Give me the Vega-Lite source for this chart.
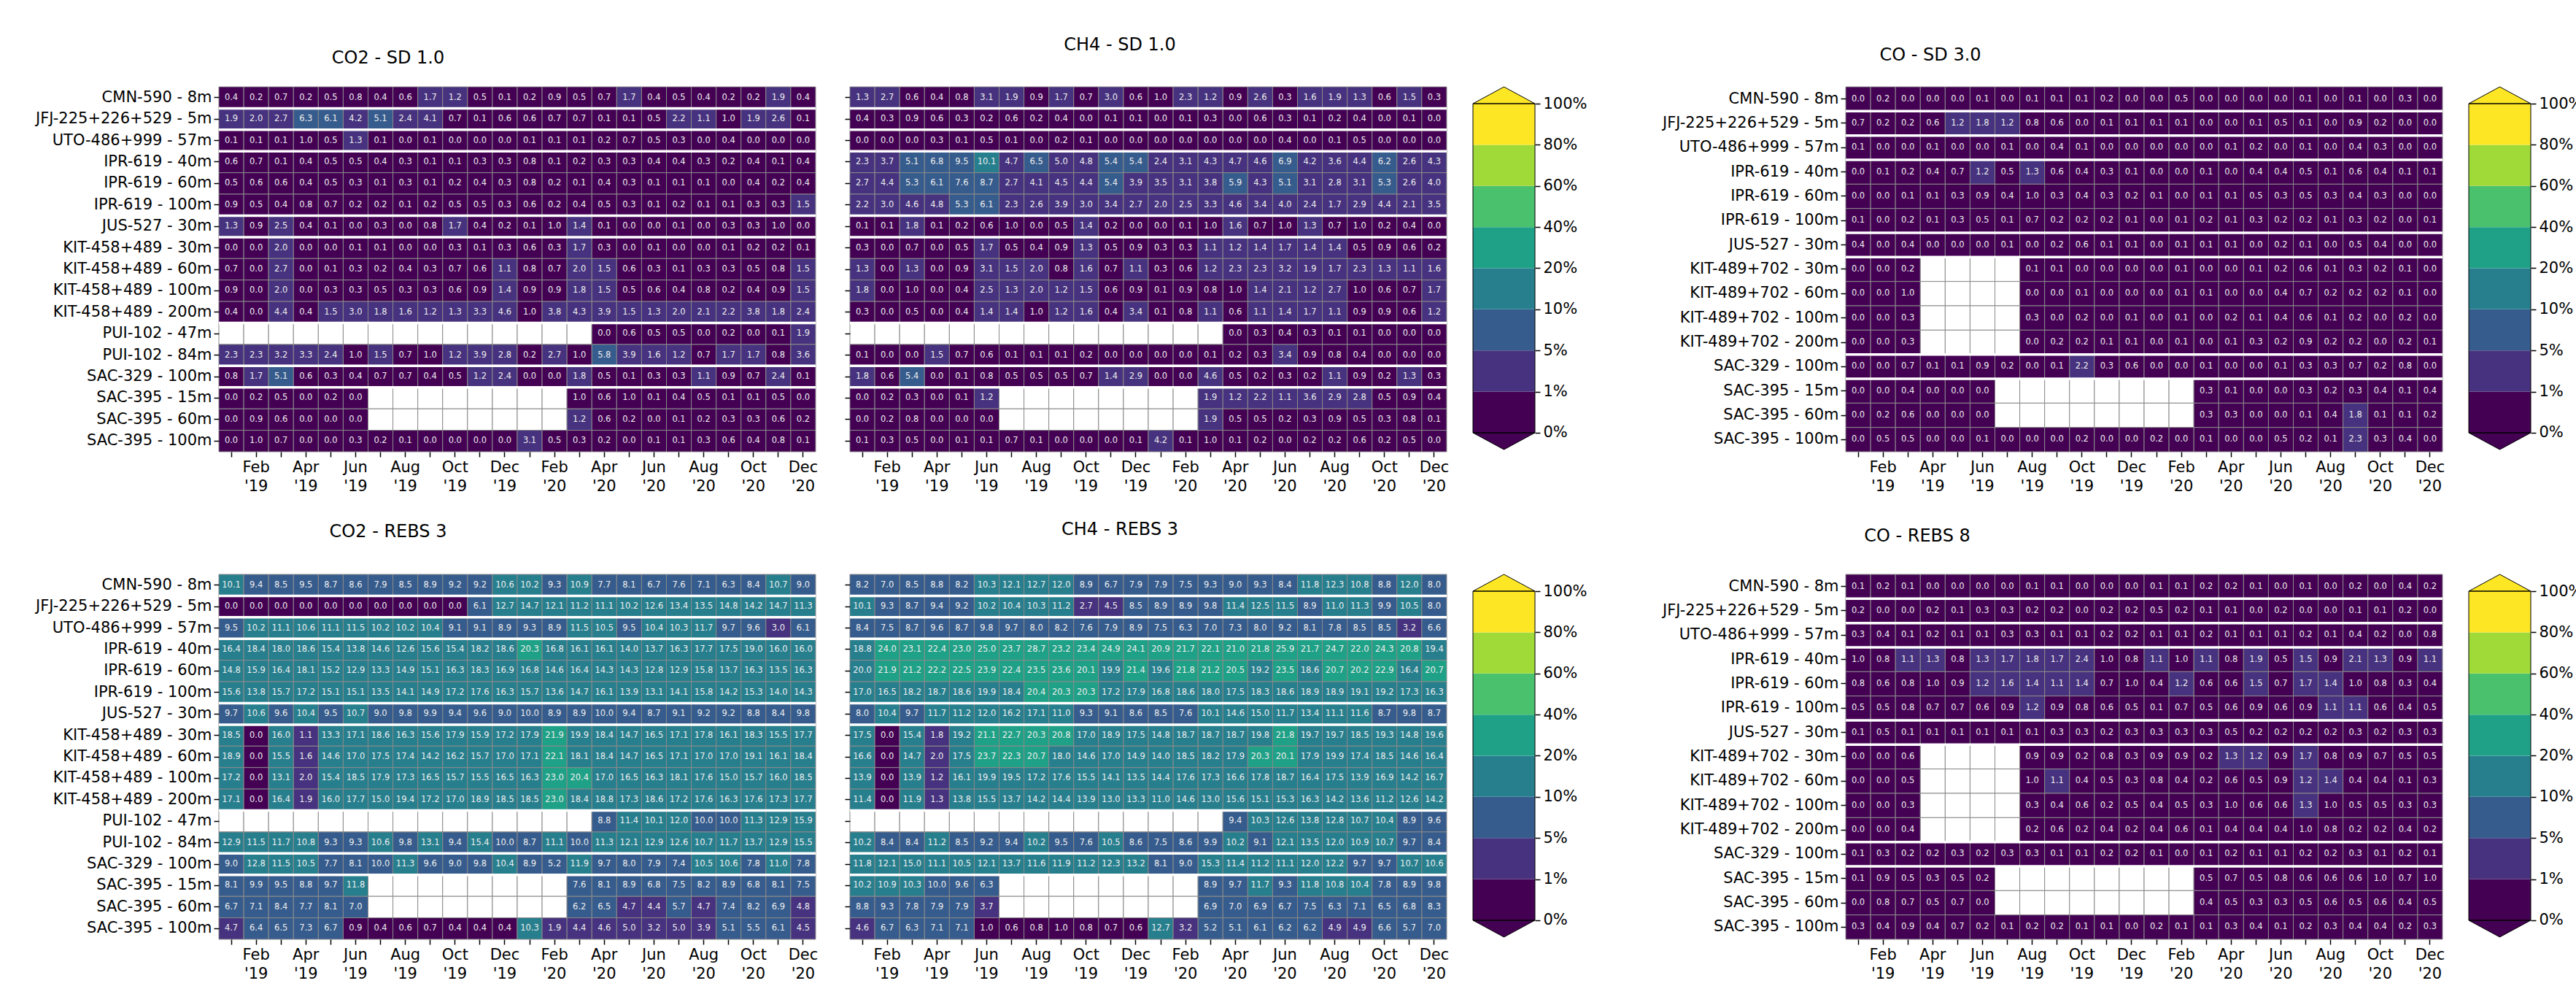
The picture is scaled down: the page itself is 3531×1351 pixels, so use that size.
{
"$schema":"https://vega.github.io/schema/vega-lite/v6.json",
"padding":{"left":48,"top":49,"right":5,"bottom":5},
"background":"white",
"spacing":37,
"config":{"font":"DejaVu Sans","view":{"stroke":null},
"axis":{"labelFont":"DejaVu Sans","labelFontSize":21,"labelColor":"black","tickColor":"black","tickSize":7,"tickWidth":1.5,"domain":false,"grid":false},
"title":{"font":"DejaVu Sans","fontSize":24,"fontWeight":"normal","color":"black","anchor":"middle","frame":"group","offset":40}},
"datasets":{
"sepGas":[{"s":"JFJ-225+226+529 - 5m"},{"s":"UTO-486+999 - 57m"},{"s":"IPR-619 - 40m"},{"s":"JUS-527 - 30m"},{"s":"KIT-458+489 - 30m"},{"s":"PUI-102 - 47m"},{"s":"SAC-329 - 100m"},{"s":"SAC-395 - 15m"}],
"sepCo":[{"s":"JFJ-225+226+529 - 5m"},{"s":"UTO-486+999 - 57m"},{"s":"IPR-619 - 40m"},{"s":"JUS-527 - 30m"},{"s":"KIT-489+702 - 30m"},{"s":"SAC-329 - 100m"},{"s":"SAC-395 - 15m"}],
"bins":[{"k":0,"hi":1},{"k":1,"hi":5},{"k":2,"hi":10},{"k":3,"hi":20},{"k":4,"hi":40},{"k":5,"hi":60},{"k":6,"hi":80},{"k":7,"hi":100}],
"ends":[{"end":"over","k":8},{"end":"under","k":0}],
"gas":[
{"s":"CMN-590 - 8m","m":"2019-01","co2sd":0.4,"co2rebs":10.1,"ch4sd":1.3,"ch4rebs":8.2},
{"s":"CMN-590 - 8m","m":"2019-02","co2sd":0.2,"co2rebs":9.4,"ch4sd":2.7,"ch4rebs":7.0},
{"s":"CMN-590 - 8m","m":"2019-03","co2sd":0.7,"co2rebs":8.5,"ch4sd":0.6,"ch4rebs":8.5},
{"s":"CMN-590 - 8m","m":"2019-04","co2sd":0.2,"co2rebs":9.5,"ch4sd":0.4,"ch4rebs":8.8},
{"s":"CMN-590 - 8m","m":"2019-05","co2sd":0.5,"co2rebs":8.7,"ch4sd":0.8,"ch4rebs":8.2},
{"s":"CMN-590 - 8m","m":"2019-06","co2sd":0.8,"co2rebs":8.6,"ch4sd":3.1,"ch4rebs":10.3},
{"s":"CMN-590 - 8m","m":"2019-07","co2sd":0.4,"co2rebs":7.9,"ch4sd":1.9,"ch4rebs":12.1},
{"s":"CMN-590 - 8m","m":"2019-08","co2sd":0.6,"co2rebs":8.5,"ch4sd":0.9,"ch4rebs":12.7},
{"s":"CMN-590 - 8m","m":"2019-09","co2sd":1.7,"co2rebs":8.9,"ch4sd":1.7,"ch4rebs":12.0},
{"s":"CMN-590 - 8m","m":"2019-10","co2sd":1.2,"co2rebs":9.2,"ch4sd":0.7,"ch4rebs":8.9},
{"s":"CMN-590 - 8m","m":"2019-11","co2sd":0.5,"co2rebs":9.2,"ch4sd":3.0,"ch4rebs":6.7},
{"s":"CMN-590 - 8m","m":"2019-12","co2sd":0.1,"co2rebs":10.6,"ch4sd":0.6,"ch4rebs":7.9},
{"s":"CMN-590 - 8m","m":"2020-01","co2sd":0.2,"co2rebs":10.2,"ch4sd":1.0,"ch4rebs":7.9},
{"s":"CMN-590 - 8m","m":"2020-02","co2sd":0.9,"co2rebs":9.3,"ch4sd":2.3,"ch4rebs":7.5},
{"s":"CMN-590 - 8m","m":"2020-03","co2sd":0.5,"co2rebs":10.9,"ch4sd":1.2,"ch4rebs":9.3},
{"s":"CMN-590 - 8m","m":"2020-04","co2sd":0.7,"co2rebs":7.7,"ch4sd":0.9,"ch4rebs":9.0},
{"s":"CMN-590 - 8m","m":"2020-05","co2sd":1.7,"co2rebs":8.1,"ch4sd":2.6,"ch4rebs":9.3},
{"s":"CMN-590 - 8m","m":"2020-06","co2sd":0.4,"co2rebs":6.7,"ch4sd":0.3,"ch4rebs":8.4},
{"s":"CMN-590 - 8m","m":"2020-07","co2sd":0.5,"co2rebs":7.6,"ch4sd":1.6,"ch4rebs":11.8},
{"s":"CMN-590 - 8m","m":"2020-08","co2sd":0.4,"co2rebs":7.1,"ch4sd":1.9,"ch4rebs":12.3},
{"s":"CMN-590 - 8m","m":"2020-09","co2sd":0.2,"co2rebs":6.3,"ch4sd":1.3,"ch4rebs":10.8},
{"s":"CMN-590 - 8m","m":"2020-10","co2sd":0.2,"co2rebs":8.4,"ch4sd":0.6,"ch4rebs":8.8},
{"s":"CMN-590 - 8m","m":"2020-11","co2sd":1.9,"co2rebs":10.7,"ch4sd":1.5,"ch4rebs":12.0},
{"s":"CMN-590 - 8m","m":"2020-12","co2sd":0.4,"co2rebs":9.0,"ch4sd":0.3,"ch4rebs":8.0},
{"s":"JFJ-225+226+529 - 5m","m":"2019-01","co2sd":1.9,"co2rebs":0.0,"ch4sd":0.4,"ch4rebs":10.1},
{"s":"JFJ-225+226+529 - 5m","m":"2019-02","co2sd":2.0,"co2rebs":0.0,"ch4sd":0.3,"ch4rebs":9.3},
{"s":"JFJ-225+226+529 - 5m","m":"2019-03","co2sd":2.7,"co2rebs":0.0,"ch4sd":0.9,"ch4rebs":8.7},
{"s":"JFJ-225+226+529 - 5m","m":"2019-04","co2sd":6.3,"co2rebs":0.0,"ch4sd":0.6,"ch4rebs":9.4},
{"s":"JFJ-225+226+529 - 5m","m":"2019-05","co2sd":6.1,"co2rebs":0.0,"ch4sd":0.3,"ch4rebs":9.2},
{"s":"JFJ-225+226+529 - 5m","m":"2019-06","co2sd":4.2,"co2rebs":0.0,"ch4sd":0.2,"ch4rebs":10.2},
{"s":"JFJ-225+226+529 - 5m","m":"2019-07","co2sd":5.1,"co2rebs":0.0,"ch4sd":0.6,"ch4rebs":10.4},
{"s":"JFJ-225+226+529 - 5m","m":"2019-08","co2sd":2.4,"co2rebs":0.0,"ch4sd":0.2,"ch4rebs":10.3},
{"s":"JFJ-225+226+529 - 5m","m":"2019-09","co2sd":4.1,"co2rebs":0.0,"ch4sd":0.4,"ch4rebs":11.2},
{"s":"JFJ-225+226+529 - 5m","m":"2019-10","co2sd":0.7,"co2rebs":0.0,"ch4sd":0.0,"ch4rebs":2.7},
{"s":"JFJ-225+226+529 - 5m","m":"2019-11","co2sd":0.1,"co2rebs":6.1,"ch4sd":0.1,"ch4rebs":4.5},
{"s":"JFJ-225+226+529 - 5m","m":"2019-12","co2sd":0.6,"co2rebs":12.7,"ch4sd":0.1,"ch4rebs":8.5},
{"s":"JFJ-225+226+529 - 5m","m":"2020-01","co2sd":0.6,"co2rebs":14.7,"ch4sd":0.0,"ch4rebs":8.9},
{"s":"JFJ-225+226+529 - 5m","m":"2020-02","co2sd":0.7,"co2rebs":12.1,"ch4sd":0.1,"ch4rebs":8.9},
{"s":"JFJ-225+226+529 - 5m","m":"2020-03","co2sd":0.7,"co2rebs":11.2,"ch4sd":0.3,"ch4rebs":9.8},
{"s":"JFJ-225+226+529 - 5m","m":"2020-04","co2sd":0.1,"co2rebs":11.1,"ch4sd":0.0,"ch4rebs":11.4},
{"s":"JFJ-225+226+529 - 5m","m":"2020-05","co2sd":0.1,"co2rebs":10.2,"ch4sd":0.6,"ch4rebs":12.5},
{"s":"JFJ-225+226+529 - 5m","m":"2020-06","co2sd":0.5,"co2rebs":12.6,"ch4sd":0.3,"ch4rebs":11.5},
{"s":"JFJ-225+226+529 - 5m","m":"2020-07","co2sd":2.2,"co2rebs":13.4,"ch4sd":0.1,"ch4rebs":8.9},
{"s":"JFJ-225+226+529 - 5m","m":"2020-08","co2sd":1.1,"co2rebs":13.5,"ch4sd":0.2,"ch4rebs":11.0},
{"s":"JFJ-225+226+529 - 5m","m":"2020-09","co2sd":1.0,"co2rebs":14.8,"ch4sd":0.4,"ch4rebs":11.3},
{"s":"JFJ-225+226+529 - 5m","m":"2020-10","co2sd":1.9,"co2rebs":14.2,"ch4sd":0.0,"ch4rebs":9.9},
{"s":"JFJ-225+226+529 - 5m","m":"2020-11","co2sd":2.6,"co2rebs":14.7,"ch4sd":0.1,"ch4rebs":10.5},
{"s":"JFJ-225+226+529 - 5m","m":"2020-12","co2sd":0.1,"co2rebs":11.3,"ch4sd":0.0,"ch4rebs":8.0},
{"s":"UTO-486+999 - 57m","m":"2019-01","co2sd":0.1,"co2rebs":9.5,"ch4sd":0.0,"ch4rebs":8.4},
{"s":"UTO-486+999 - 57m","m":"2019-02","co2sd":0.1,"co2rebs":10.2,"ch4sd":0.0,"ch4rebs":7.5},
{"s":"UTO-486+999 - 57m","m":"2019-03","co2sd":0.1,"co2rebs":11.1,"ch4sd":0.0,"ch4rebs":8.7},
{"s":"UTO-486+999 - 57m","m":"2019-04","co2sd":1.0,"co2rebs":10.6,"ch4sd":0.3,"ch4rebs":9.6},
{"s":"UTO-486+999 - 57m","m":"2019-05","co2sd":0.5,"co2rebs":11.1,"ch4sd":0.1,"ch4rebs":8.7},
{"s":"UTO-486+999 - 57m","m":"2019-06","co2sd":1.3,"co2rebs":11.5,"ch4sd":0.5,"ch4rebs":9.8},
{"s":"UTO-486+999 - 57m","m":"2019-07","co2sd":0.1,"co2rebs":10.2,"ch4sd":0.1,"ch4rebs":9.7},
{"s":"UTO-486+999 - 57m","m":"2019-08","co2sd":0.0,"co2rebs":10.2,"ch4sd":0.0,"ch4rebs":8.0},
{"s":"UTO-486+999 - 57m","m":"2019-09","co2sd":0.1,"co2rebs":10.4,"ch4sd":0.2,"ch4rebs":8.2},
{"s":"UTO-486+999 - 57m","m":"2019-10","co2sd":0.0,"co2rebs":9.1,"ch4sd":0.1,"ch4rebs":7.6},
{"s":"UTO-486+999 - 57m","m":"2019-11","co2sd":0.0,"co2rebs":9.1,"ch4sd":0.0,"ch4rebs":7.9},
{"s":"UTO-486+999 - 57m","m":"2019-12","co2sd":0.0,"co2rebs":8.9,"ch4sd":0.0,"ch4rebs":8.9},
{"s":"UTO-486+999 - 57m","m":"2020-01","co2sd":0.1,"co2rebs":9.3,"ch4sd":0.0,"ch4rebs":7.5},
{"s":"UTO-486+999 - 57m","m":"2020-02","co2sd":0.1,"co2rebs":8.9,"ch4sd":0.0,"ch4rebs":6.3},
{"s":"UTO-486+999 - 57m","m":"2020-03","co2sd":0.1,"co2rebs":11.5,"ch4sd":0.0,"ch4rebs":7.0},
{"s":"UTO-486+999 - 57m","m":"2020-04","co2sd":0.2,"co2rebs":10.5,"ch4sd":0.0,"ch4rebs":7.3},
{"s":"UTO-486+999 - 57m","m":"2020-05","co2sd":0.7,"co2rebs":9.5,"ch4sd":0.0,"ch4rebs":8.0},
{"s":"UTO-486+999 - 57m","m":"2020-06","co2sd":0.5,"co2rebs":10.4,"ch4sd":0.4,"ch4rebs":9.2},
{"s":"UTO-486+999 - 57m","m":"2020-07","co2sd":0.3,"co2rebs":10.3,"ch4sd":0.0,"ch4rebs":8.1},
{"s":"UTO-486+999 - 57m","m":"2020-08","co2sd":0.0,"co2rebs":11.7,"ch4sd":0.1,"ch4rebs":7.8},
{"s":"UTO-486+999 - 57m","m":"2020-09","co2sd":0.4,"co2rebs":9.7,"ch4sd":0.5,"ch4rebs":8.5},
{"s":"UTO-486+999 - 57m","m":"2020-10","co2sd":0.0,"co2rebs":9.6,"ch4sd":0.0,"ch4rebs":8.5},
{"s":"UTO-486+999 - 57m","m":"2020-11","co2sd":0.0,"co2rebs":3.0,"ch4sd":0.0,"ch4rebs":3.2},
{"s":"UTO-486+999 - 57m","m":"2020-12","co2sd":0.0,"co2rebs":6.1,"ch4sd":0.0,"ch4rebs":6.6},
{"s":"IPR-619 - 40m","m":"2019-01","co2sd":0.6,"co2rebs":16.4,"ch4sd":2.3,"ch4rebs":18.8},
{"s":"IPR-619 - 40m","m":"2019-02","co2sd":0.7,"co2rebs":18.4,"ch4sd":3.7,"ch4rebs":24.0},
{"s":"IPR-619 - 40m","m":"2019-03","co2sd":0.1,"co2rebs":18.0,"ch4sd":5.1,"ch4rebs":23.1},
{"s":"IPR-619 - 40m","m":"2019-04","co2sd":0.4,"co2rebs":18.6,"ch4sd":6.8,"ch4rebs":22.4},
{"s":"IPR-619 - 40m","m":"2019-05","co2sd":0.5,"co2rebs":15.4,"ch4sd":9.5,"ch4rebs":23.0},
{"s":"IPR-619 - 40m","m":"2019-06","co2sd":0.5,"co2rebs":13.8,"ch4sd":10.1,"ch4rebs":25.0},
{"s":"IPR-619 - 40m","m":"2019-07","co2sd":0.4,"co2rebs":14.6,"ch4sd":4.7,"ch4rebs":23.7},
{"s":"IPR-619 - 40m","m":"2019-08","co2sd":0.3,"co2rebs":12.6,"ch4sd":6.5,"ch4rebs":28.7},
{"s":"IPR-619 - 40m","m":"2019-09","co2sd":0.1,"co2rebs":15.6,"ch4sd":5.0,"ch4rebs":23.2},
{"s":"IPR-619 - 40m","m":"2019-10","co2sd":0.1,"co2rebs":15.4,"ch4sd":4.8,"ch4rebs":23.4},
{"s":"IPR-619 - 40m","m":"2019-11","co2sd":0.3,"co2rebs":18.2,"ch4sd":5.4,"ch4rebs":24.9},
{"s":"IPR-619 - 40m","m":"2019-12","co2sd":0.3,"co2rebs":18.6,"ch4sd":5.4,"ch4rebs":24.1},
{"s":"IPR-619 - 40m","m":"2020-01","co2sd":0.8,"co2rebs":20.3,"ch4sd":2.4,"ch4rebs":20.9},
{"s":"IPR-619 - 40m","m":"2020-02","co2sd":0.1,"co2rebs":16.8,"ch4sd":3.1,"ch4rebs":21.7},
{"s":"IPR-619 - 40m","m":"2020-03","co2sd":0.2,"co2rebs":16.1,"ch4sd":4.3,"ch4rebs":22.1},
{"s":"IPR-619 - 40m","m":"2020-04","co2sd":0.3,"co2rebs":16.1,"ch4sd":4.7,"ch4rebs":21.0},
{"s":"IPR-619 - 40m","m":"2020-05","co2sd":0.3,"co2rebs":14.0,"ch4sd":4.6,"ch4rebs":21.8},
{"s":"IPR-619 - 40m","m":"2020-06","co2sd":0.4,"co2rebs":13.7,"ch4sd":6.9,"ch4rebs":25.9},
{"s":"IPR-619 - 40m","m":"2020-07","co2sd":0.4,"co2rebs":16.3,"ch4sd":4.2,"ch4rebs":21.7},
{"s":"IPR-619 - 40m","m":"2020-08","co2sd":0.3,"co2rebs":17.7,"ch4sd":3.6,"ch4rebs":24.7},
{"s":"IPR-619 - 40m","m":"2020-09","co2sd":0.2,"co2rebs":17.5,"ch4sd":4.4,"ch4rebs":22.0},
{"s":"IPR-619 - 40m","m":"2020-10","co2sd":0.4,"co2rebs":19.0,"ch4sd":6.2,"ch4rebs":24.3},
{"s":"IPR-619 - 40m","m":"2020-11","co2sd":0.1,"co2rebs":16.0,"ch4sd":2.6,"ch4rebs":20.8},
{"s":"IPR-619 - 40m","m":"2020-12","co2sd":0.4,"co2rebs":16.0,"ch4sd":4.3,"ch4rebs":19.4},
{"s":"IPR-619 - 60m","m":"2019-01","co2sd":0.5,"co2rebs":14.8,"ch4sd":2.7,"ch4rebs":20.0},
{"s":"IPR-619 - 60m","m":"2019-02","co2sd":0.6,"co2rebs":15.9,"ch4sd":4.4,"ch4rebs":21.9},
{"s":"IPR-619 - 60m","m":"2019-03","co2sd":0.6,"co2rebs":16.4,"ch4sd":5.3,"ch4rebs":21.2},
{"s":"IPR-619 - 60m","m":"2019-04","co2sd":0.4,"co2rebs":18.1,"ch4sd":6.1,"ch4rebs":22.2},
{"s":"IPR-619 - 60m","m":"2019-05","co2sd":0.5,"co2rebs":15.2,"ch4sd":7.6,"ch4rebs":22.5},
{"s":"IPR-619 - 60m","m":"2019-06","co2sd":0.3,"co2rebs":12.9,"ch4sd":8.7,"ch4rebs":23.9},
{"s":"IPR-619 - 60m","m":"2019-07","co2sd":0.1,"co2rebs":13.3,"ch4sd":2.7,"ch4rebs":22.4},
{"s":"IPR-619 - 60m","m":"2019-08","co2sd":0.3,"co2rebs":14.9,"ch4sd":4.1,"ch4rebs":23.5},
{"s":"IPR-619 - 60m","m":"2019-09","co2sd":0.1,"co2rebs":15.1,"ch4sd":4.5,"ch4rebs":23.6},
{"s":"IPR-619 - 60m","m":"2019-10","co2sd":0.2,"co2rebs":16.3,"ch4sd":4.4,"ch4rebs":20.1},
{"s":"IPR-619 - 60m","m":"2019-11","co2sd":0.4,"co2rebs":18.3,"ch4sd":5.4,"ch4rebs":19.9},
{"s":"IPR-619 - 60m","m":"2019-12","co2sd":0.3,"co2rebs":16.9,"ch4sd":3.9,"ch4rebs":21.4},
{"s":"IPR-619 - 60m","m":"2020-01","co2sd":0.8,"co2rebs":16.8,"ch4sd":3.5,"ch4rebs":19.6},
{"s":"IPR-619 - 60m","m":"2020-02","co2sd":0.2,"co2rebs":14.6,"ch4sd":3.1,"ch4rebs":21.8},
{"s":"IPR-619 - 60m","m":"2020-03","co2sd":0.1,"co2rebs":16.4,"ch4sd":3.8,"ch4rebs":21.2},
{"s":"IPR-619 - 60m","m":"2020-04","co2sd":0.4,"co2rebs":14.3,"ch4sd":5.9,"ch4rebs":20.5},
{"s":"IPR-619 - 60m","m":"2020-05","co2sd":0.3,"co2rebs":14.3,"ch4sd":4.3,"ch4rebs":19.2},
{"s":"IPR-619 - 60m","m":"2020-06","co2sd":0.1,"co2rebs":12.8,"ch4sd":5.1,"ch4rebs":23.5},
{"s":"IPR-619 - 60m","m":"2020-07","co2sd":0.1,"co2rebs":12.9,"ch4sd":3.1,"ch4rebs":18.6},
{"s":"IPR-619 - 60m","m":"2020-08","co2sd":0.1,"co2rebs":15.8,"ch4sd":2.8,"ch4rebs":20.7},
{"s":"IPR-619 - 60m","m":"2020-09","co2sd":0.0,"co2rebs":13.7,"ch4sd":3.1,"ch4rebs":20.2},
{"s":"IPR-619 - 60m","m":"2020-10","co2sd":0.4,"co2rebs":16.3,"ch4sd":5.3,"ch4rebs":22.9},
{"s":"IPR-619 - 60m","m":"2020-11","co2sd":0.2,"co2rebs":13.5,"ch4sd":2.6,"ch4rebs":16.4},
{"s":"IPR-619 - 60m","m":"2020-12","co2sd":0.4,"co2rebs":16.3,"ch4sd":4.0,"ch4rebs":20.7},
{"s":"IPR-619 - 100m","m":"2019-01","co2sd":0.9,"co2rebs":15.6,"ch4sd":2.2,"ch4rebs":17.0},
{"s":"IPR-619 - 100m","m":"2019-02","co2sd":0.5,"co2rebs":13.8,"ch4sd":3.0,"ch4rebs":16.5},
{"s":"IPR-619 - 100m","m":"2019-03","co2sd":0.4,"co2rebs":15.7,"ch4sd":4.6,"ch4rebs":18.2},
{"s":"IPR-619 - 100m","m":"2019-04","co2sd":0.8,"co2rebs":17.2,"ch4sd":4.8,"ch4rebs":18.7},
{"s":"IPR-619 - 100m","m":"2019-05","co2sd":0.7,"co2rebs":15.1,"ch4sd":5.3,"ch4rebs":18.6},
{"s":"IPR-619 - 100m","m":"2019-06","co2sd":0.2,"co2rebs":15.1,"ch4sd":6.1,"ch4rebs":19.9},
{"s":"IPR-619 - 100m","m":"2019-07","co2sd":0.2,"co2rebs":13.5,"ch4sd":2.3,"ch4rebs":18.4},
{"s":"IPR-619 - 100m","m":"2019-08","co2sd":0.1,"co2rebs":14.1,"ch4sd":2.6,"ch4rebs":20.4},
{"s":"IPR-619 - 100m","m":"2019-09","co2sd":0.2,"co2rebs":14.9,"ch4sd":3.9,"ch4rebs":20.3},
{"s":"IPR-619 - 100m","m":"2019-10","co2sd":0.5,"co2rebs":17.2,"ch4sd":3.0,"ch4rebs":20.3},
{"s":"IPR-619 - 100m","m":"2019-11","co2sd":0.5,"co2rebs":17.6,"ch4sd":3.4,"ch4rebs":17.2},
{"s":"IPR-619 - 100m","m":"2019-12","co2sd":0.3,"co2rebs":16.3,"ch4sd":2.7,"ch4rebs":17.9},
{"s":"IPR-619 - 100m","m":"2020-01","co2sd":0.6,"co2rebs":15.7,"ch4sd":2.0,"ch4rebs":16.8},
{"s":"IPR-619 - 100m","m":"2020-02","co2sd":0.2,"co2rebs":13.6,"ch4sd":2.5,"ch4rebs":18.6},
{"s":"IPR-619 - 100m","m":"2020-03","co2sd":0.4,"co2rebs":14.7,"ch4sd":3.3,"ch4rebs":18.0},
{"s":"IPR-619 - 100m","m":"2020-04","co2sd":0.5,"co2rebs":16.1,"ch4sd":4.6,"ch4rebs":17.5},
{"s":"IPR-619 - 100m","m":"2020-05","co2sd":0.3,"co2rebs":13.9,"ch4sd":3.4,"ch4rebs":18.3},
{"s":"IPR-619 - 100m","m":"2020-06","co2sd":0.1,"co2rebs":13.1,"ch4sd":4.0,"ch4rebs":18.6},
{"s":"IPR-619 - 100m","m":"2020-07","co2sd":0.2,"co2rebs":14.1,"ch4sd":2.4,"ch4rebs":18.9},
{"s":"IPR-619 - 100m","m":"2020-08","co2sd":0.1,"co2rebs":15.8,"ch4sd":1.7,"ch4rebs":18.9},
{"s":"IPR-619 - 100m","m":"2020-09","co2sd":0.1,"co2rebs":14.2,"ch4sd":2.9,"ch4rebs":19.1},
{"s":"IPR-619 - 100m","m":"2020-10","co2sd":0.3,"co2rebs":15.3,"ch4sd":4.4,"ch4rebs":19.2},
{"s":"IPR-619 - 100m","m":"2020-11","co2sd":0.3,"co2rebs":14.0,"ch4sd":2.1,"ch4rebs":17.3},
{"s":"IPR-619 - 100m","m":"2020-12","co2sd":1.5,"co2rebs":14.3,"ch4sd":3.5,"ch4rebs":16.3},
{"s":"JUS-527 - 30m","m":"2019-01","co2sd":1.3,"co2rebs":9.7,"ch4sd":0.1,"ch4rebs":8.0},
{"s":"JUS-527 - 30m","m":"2019-02","co2sd":0.9,"co2rebs":10.6,"ch4sd":0.1,"ch4rebs":10.4},
{"s":"JUS-527 - 30m","m":"2019-03","co2sd":2.5,"co2rebs":9.6,"ch4sd":1.8,"ch4rebs":9.7},
{"s":"JUS-527 - 30m","m":"2019-04","co2sd":0.4,"co2rebs":10.4,"ch4sd":0.1,"ch4rebs":11.7},
{"s":"JUS-527 - 30m","m":"2019-05","co2sd":0.1,"co2rebs":9.5,"ch4sd":0.2,"ch4rebs":11.2},
{"s":"JUS-527 - 30m","m":"2019-06","co2sd":0.0,"co2rebs":10.7,"ch4sd":0.6,"ch4rebs":12.0},
{"s":"JUS-527 - 30m","m":"2019-07","co2sd":0.3,"co2rebs":9.0,"ch4sd":1.0,"ch4rebs":16.2},
{"s":"JUS-527 - 30m","m":"2019-08","co2sd":0.0,"co2rebs":9.8,"ch4sd":0.0,"ch4rebs":17.1},
{"s":"JUS-527 - 30m","m":"2019-09","co2sd":0.8,"co2rebs":9.9,"ch4sd":0.5,"ch4rebs":11.0},
{"s":"JUS-527 - 30m","m":"2019-10","co2sd":1.7,"co2rebs":9.4,"ch4sd":1.4,"ch4rebs":9.3},
{"s":"JUS-527 - 30m","m":"2019-11","co2sd":0.4,"co2rebs":9.6,"ch4sd":0.2,"ch4rebs":9.1},
{"s":"JUS-527 - 30m","m":"2019-12","co2sd":0.2,"co2rebs":9.0,"ch4sd":0.0,"ch4rebs":8.6},
{"s":"JUS-527 - 30m","m":"2020-01","co2sd":0.1,"co2rebs":10.0,"ch4sd":0.0,"ch4rebs":8.5},
{"s":"JUS-527 - 30m","m":"2020-02","co2sd":1.0,"co2rebs":8.9,"ch4sd":0.1,"ch4rebs":7.6},
{"s":"JUS-527 - 30m","m":"2020-03","co2sd":1.4,"co2rebs":8.9,"ch4sd":1.0,"ch4rebs":10.1},
{"s":"JUS-527 - 30m","m":"2020-04","co2sd":0.1,"co2rebs":10.0,"ch4sd":1.6,"ch4rebs":14.6},
{"s":"JUS-527 - 30m","m":"2020-05","co2sd":0.0,"co2rebs":9.4,"ch4sd":0.7,"ch4rebs":15.0},
{"s":"JUS-527 - 30m","m":"2020-06","co2sd":0.0,"co2rebs":8.7,"ch4sd":1.0,"ch4rebs":11.7},
{"s":"JUS-527 - 30m","m":"2020-07","co2sd":0.1,"co2rebs":9.1,"ch4sd":1.3,"ch4rebs":13.4},
{"s":"JUS-527 - 30m","m":"2020-08","co2sd":0.0,"co2rebs":9.2,"ch4sd":0.7,"ch4rebs":11.1},
{"s":"JUS-527 - 30m","m":"2020-09","co2sd":0.3,"co2rebs":9.2,"ch4sd":1.0,"ch4rebs":11.6},
{"s":"JUS-527 - 30m","m":"2020-10","co2sd":0.3,"co2rebs":8.8,"ch4sd":0.2,"ch4rebs":8.7},
{"s":"JUS-527 - 30m","m":"2020-11","co2sd":1.0,"co2rebs":8.4,"ch4sd":0.4,"ch4rebs":9.8},
{"s":"JUS-527 - 30m","m":"2020-12","co2sd":0.0,"co2rebs":9.8,"ch4sd":0.0,"ch4rebs":8.7},
{"s":"KIT-458+489 - 30m","m":"2019-01","co2sd":0.0,"co2rebs":18.5,"ch4sd":0.3,"ch4rebs":17.5},
{"s":"KIT-458+489 - 30m","m":"2019-02","co2sd":0.0,"co2rebs":0.0,"ch4sd":0.0,"ch4rebs":0.0},
{"s":"KIT-458+489 - 30m","m":"2019-03","co2sd":2.0,"co2rebs":16.0,"ch4sd":0.7,"ch4rebs":15.4},
{"s":"KIT-458+489 - 30m","m":"2019-04","co2sd":0.0,"co2rebs":1.1,"ch4sd":0.0,"ch4rebs":1.8},
{"s":"KIT-458+489 - 30m","m":"2019-05","co2sd":0.0,"co2rebs":13.3,"ch4sd":0.5,"ch4rebs":19.2},
{"s":"KIT-458+489 - 30m","m":"2019-06","co2sd":0.1,"co2rebs":17.1,"ch4sd":1.7,"ch4rebs":21.1},
{"s":"KIT-458+489 - 30m","m":"2019-07","co2sd":0.1,"co2rebs":18.6,"ch4sd":0.5,"ch4rebs":22.7},
{"s":"KIT-458+489 - 30m","m":"2019-08","co2sd":0.0,"co2rebs":16.3,"ch4sd":0.4,"ch4rebs":20.3},
{"s":"KIT-458+489 - 30m","m":"2019-09","co2sd":0.0,"co2rebs":15.6,"ch4sd":0.9,"ch4rebs":20.8},
{"s":"KIT-458+489 - 30m","m":"2019-10","co2sd":0.3,"co2rebs":17.9,"ch4sd":1.3,"ch4rebs":17.0},
{"s":"KIT-458+489 - 30m","m":"2019-11","co2sd":0.1,"co2rebs":15.9,"ch4sd":0.5,"ch4rebs":18.9},
{"s":"KIT-458+489 - 30m","m":"2019-12","co2sd":0.3,"co2rebs":17.2,"ch4sd":0.9,"ch4rebs":17.5},
{"s":"KIT-458+489 - 30m","m":"2020-01","co2sd":0.6,"co2rebs":17.9,"ch4sd":0.3,"ch4rebs":14.8},
{"s":"KIT-458+489 - 30m","m":"2020-02","co2sd":0.3,"co2rebs":21.9,"ch4sd":0.3,"ch4rebs":18.7},
{"s":"KIT-458+489 - 30m","m":"2020-03","co2sd":1.7,"co2rebs":19.9,"ch4sd":1.1,"ch4rebs":18.7},
{"s":"KIT-458+489 - 30m","m":"2020-04","co2sd":0.3,"co2rebs":18.4,"ch4sd":1.2,"ch4rebs":18.7},
{"s":"KIT-458+489 - 30m","m":"2020-05","co2sd":0.0,"co2rebs":14.7,"ch4sd":1.4,"ch4rebs":19.8},
{"s":"KIT-458+489 - 30m","m":"2020-06","co2sd":0.1,"co2rebs":16.5,"ch4sd":1.7,"ch4rebs":21.8},
{"s":"KIT-458+489 - 30m","m":"2020-07","co2sd":0.0,"co2rebs":17.1,"ch4sd":1.4,"ch4rebs":19.7},
{"s":"KIT-458+489 - 30m","m":"2020-08","co2sd":0.0,"co2rebs":17.8,"ch4sd":1.4,"ch4rebs":19.7},
{"s":"KIT-458+489 - 30m","m":"2020-09","co2sd":0.1,"co2rebs":16.1,"ch4sd":0.5,"ch4rebs":18.5},
{"s":"KIT-458+489 - 30m","m":"2020-10","co2sd":0.2,"co2rebs":18.3,"ch4sd":0.9,"ch4rebs":19.3},
{"s":"KIT-458+489 - 30m","m":"2020-11","co2sd":0.2,"co2rebs":15.5,"ch4sd":0.6,"ch4rebs":14.8},
{"s":"KIT-458+489 - 30m","m":"2020-12","co2sd":0.1,"co2rebs":17.7,"ch4sd":0.2,"ch4rebs":19.6},
{"s":"KIT-458+489 - 60m","m":"2019-01","co2sd":0.7,"co2rebs":18.9,"ch4sd":1.3,"ch4rebs":16.6},
{"s":"KIT-458+489 - 60m","m":"2019-02","co2sd":0.0,"co2rebs":0.0,"ch4sd":0.0,"ch4rebs":0.0},
{"s":"KIT-458+489 - 60m","m":"2019-03","co2sd":2.7,"co2rebs":15.5,"ch4sd":1.3,"ch4rebs":14.7},
{"s":"KIT-458+489 - 60m","m":"2019-04","co2sd":0.0,"co2rebs":1.6,"ch4sd":0.0,"ch4rebs":2.0},
{"s":"KIT-458+489 - 60m","m":"2019-05","co2sd":0.1,"co2rebs":14.6,"ch4sd":0.9,"ch4rebs":17.5},
{"s":"KIT-458+489 - 60m","m":"2019-06","co2sd":0.3,"co2rebs":17.0,"ch4sd":3.1,"ch4rebs":23.7},
{"s":"KIT-458+489 - 60m","m":"2019-07","co2sd":0.2,"co2rebs":17.5,"ch4sd":1.5,"ch4rebs":22.3},
{"s":"KIT-458+489 - 60m","m":"2019-08","co2sd":0.4,"co2rebs":17.4,"ch4sd":2.0,"ch4rebs":20.7},
{"s":"KIT-458+489 - 60m","m":"2019-09","co2sd":0.3,"co2rebs":14.2,"ch4sd":0.8,"ch4rebs":18.0},
{"s":"KIT-458+489 - 60m","m":"2019-10","co2sd":0.7,"co2rebs":16.2,"ch4sd":1.6,"ch4rebs":14.6},
{"s":"KIT-458+489 - 60m","m":"2019-11","co2sd":0.6,"co2rebs":15.7,"ch4sd":0.7,"ch4rebs":17.0},
{"s":"KIT-458+489 - 60m","m":"2019-12","co2sd":1.1,"co2rebs":17.0,"ch4sd":1.1,"ch4rebs":14.9},
{"s":"KIT-458+489 - 60m","m":"2020-01","co2sd":0.8,"co2rebs":17.1,"ch4sd":0.3,"ch4rebs":14.0},
{"s":"KIT-458+489 - 60m","m":"2020-02","co2sd":0.7,"co2rebs":22.1,"ch4sd":0.6,"ch4rebs":18.5},
{"s":"KIT-458+489 - 60m","m":"2020-03","co2sd":2.0,"co2rebs":18.1,"ch4sd":1.2,"ch4rebs":18.2},
{"s":"KIT-458+489 - 60m","m":"2020-04","co2sd":1.5,"co2rebs":18.4,"ch4sd":2.3,"ch4rebs":17.9},
{"s":"KIT-458+489 - 60m","m":"2020-05","co2sd":0.6,"co2rebs":14.7,"ch4sd":2.3,"ch4rebs":20.3},
{"s":"KIT-458+489 - 60m","m":"2020-06","co2sd":0.3,"co2rebs":16.5,"ch4sd":3.2,"ch4rebs":20.1},
{"s":"KIT-458+489 - 60m","m":"2020-07","co2sd":0.1,"co2rebs":17.1,"ch4sd":1.9,"ch4rebs":17.9},
{"s":"KIT-458+489 - 60m","m":"2020-08","co2sd":0.3,"co2rebs":17.0,"ch4sd":1.7,"ch4rebs":19.9},
{"s":"KIT-458+489 - 60m","m":"2020-09","co2sd":0.3,"co2rebs":17.0,"ch4sd":2.3,"ch4rebs":17.4},
{"s":"KIT-458+489 - 60m","m":"2020-10","co2sd":0.5,"co2rebs":19.1,"ch4sd":1.3,"ch4rebs":18.5},
{"s":"KIT-458+489 - 60m","m":"2020-11","co2sd":0.8,"co2rebs":16.1,"ch4sd":1.1,"ch4rebs":14.6},
{"s":"KIT-458+489 - 60m","m":"2020-12","co2sd":1.5,"co2rebs":18.4,"ch4sd":1.6,"ch4rebs":16.4},
{"s":"KIT-458+489 - 100m","m":"2019-01","co2sd":0.9,"co2rebs":17.2,"ch4sd":1.8,"ch4rebs":13.9},
{"s":"KIT-458+489 - 100m","m":"2019-02","co2sd":0.0,"co2rebs":0.0,"ch4sd":0.0,"ch4rebs":0.0},
{"s":"KIT-458+489 - 100m","m":"2019-03","co2sd":2.0,"co2rebs":13.1,"ch4sd":1.0,"ch4rebs":13.9},
{"s":"KIT-458+489 - 100m","m":"2019-04","co2sd":0.0,"co2rebs":2.0,"ch4sd":0.0,"ch4rebs":1.2},
{"s":"KIT-458+489 - 100m","m":"2019-05","co2sd":0.3,"co2rebs":15.4,"ch4sd":0.4,"ch4rebs":16.1},
{"s":"KIT-458+489 - 100m","m":"2019-06","co2sd":0.3,"co2rebs":18.5,"ch4sd":2.5,"ch4rebs":19.9},
{"s":"KIT-458+489 - 100m","m":"2019-07","co2sd":0.5,"co2rebs":17.9,"ch4sd":1.3,"ch4rebs":19.5},
{"s":"KIT-458+489 - 100m","m":"2019-08","co2sd":0.3,"co2rebs":17.3,"ch4sd":2.0,"ch4rebs":17.2},
{"s":"KIT-458+489 - 100m","m":"2019-09","co2sd":0.3,"co2rebs":16.5,"ch4sd":1.2,"ch4rebs":17.6},
{"s":"KIT-458+489 - 100m","m":"2019-10","co2sd":0.6,"co2rebs":15.7,"ch4sd":1.5,"ch4rebs":15.5},
{"s":"KIT-458+489 - 100m","m":"2019-11","co2sd":0.9,"co2rebs":15.5,"ch4sd":0.6,"ch4rebs":14.1},
{"s":"KIT-458+489 - 100m","m":"2019-12","co2sd":1.4,"co2rebs":16.5,"ch4sd":0.9,"ch4rebs":13.5},
{"s":"KIT-458+489 - 100m","m":"2020-01","co2sd":0.9,"co2rebs":16.3,"ch4sd":0.1,"ch4rebs":14.4},
{"s":"KIT-458+489 - 100m","m":"2020-02","co2sd":0.9,"co2rebs":23.0,"ch4sd":0.9,"ch4rebs":17.6},
{"s":"KIT-458+489 - 100m","m":"2020-03","co2sd":1.8,"co2rebs":20.4,"ch4sd":0.8,"ch4rebs":17.3},
{"s":"KIT-458+489 - 100m","m":"2020-04","co2sd":1.5,"co2rebs":17.0,"ch4sd":1.0,"ch4rebs":16.6},
{"s":"KIT-458+489 - 100m","m":"2020-05","co2sd":0.5,"co2rebs":16.5,"ch4sd":1.4,"ch4rebs":17.8},
{"s":"KIT-458+489 - 100m","m":"2020-06","co2sd":0.6,"co2rebs":16.3,"ch4sd":2.1,"ch4rebs":18.7},
{"s":"KIT-458+489 - 100m","m":"2020-07","co2sd":0.4,"co2rebs":18.1,"ch4sd":1.2,"ch4rebs":16.4},
{"s":"KIT-458+489 - 100m","m":"2020-08","co2sd":0.8,"co2rebs":17.6,"ch4sd":2.7,"ch4rebs":17.5},
{"s":"KIT-458+489 - 100m","m":"2020-09","co2sd":0.2,"co2rebs":15.0,"ch4sd":1.0,"ch4rebs":13.9},
{"s":"KIT-458+489 - 100m","m":"2020-10","co2sd":0.4,"co2rebs":15.7,"ch4sd":0.6,"ch4rebs":16.9},
{"s":"KIT-458+489 - 100m","m":"2020-11","co2sd":0.9,"co2rebs":16.0,"ch4sd":0.7,"ch4rebs":14.2},
{"s":"KIT-458+489 - 100m","m":"2020-12","co2sd":1.5,"co2rebs":18.5,"ch4sd":1.7,"ch4rebs":16.7},
{"s":"KIT-458+489 - 200m","m":"2019-01","co2sd":0.4,"co2rebs":17.1,"ch4sd":0.3,"ch4rebs":11.4},
{"s":"KIT-458+489 - 200m","m":"2019-02","co2sd":0.0,"co2rebs":0.0,"ch4sd":0.0,"ch4rebs":0.0},
{"s":"KIT-458+489 - 200m","m":"2019-03","co2sd":4.4,"co2rebs":16.4,"ch4sd":0.5,"ch4rebs":11.9},
{"s":"KIT-458+489 - 200m","m":"2019-04","co2sd":0.4,"co2rebs":1.9,"ch4sd":0.0,"ch4rebs":1.3},
{"s":"KIT-458+489 - 200m","m":"2019-05","co2sd":1.5,"co2rebs":16.0,"ch4sd":0.4,"ch4rebs":13.8},
{"s":"KIT-458+489 - 200m","m":"2019-06","co2sd":3.0,"co2rebs":17.7,"ch4sd":1.4,"ch4rebs":15.5},
{"s":"KIT-458+489 - 200m","m":"2019-07","co2sd":1.8,"co2rebs":15.0,"ch4sd":1.4,"ch4rebs":13.7},
{"s":"KIT-458+489 - 200m","m":"2019-08","co2sd":1.6,"co2rebs":19.4,"ch4sd":1.0,"ch4rebs":14.2},
{"s":"KIT-458+489 - 200m","m":"2019-09","co2sd":1.2,"co2rebs":17.2,"ch4sd":1.2,"ch4rebs":14.4},
{"s":"KIT-458+489 - 200m","m":"2019-10","co2sd":1.3,"co2rebs":17.0,"ch4sd":1.6,"ch4rebs":13.9},
{"s":"KIT-458+489 - 200m","m":"2019-11","co2sd":3.3,"co2rebs":18.9,"ch4sd":0.4,"ch4rebs":13.0},
{"s":"KIT-458+489 - 200m","m":"2019-12","co2sd":4.6,"co2rebs":18.5,"ch4sd":3.4,"ch4rebs":13.3},
{"s":"KIT-458+489 - 200m","m":"2020-01","co2sd":1.0,"co2rebs":18.5,"ch4sd":0.1,"ch4rebs":11.0},
{"s":"KIT-458+489 - 200m","m":"2020-02","co2sd":3.8,"co2rebs":23.0,"ch4sd":0.8,"ch4rebs":14.6},
{"s":"KIT-458+489 - 200m","m":"2020-03","co2sd":4.3,"co2rebs":18.4,"ch4sd":1.1,"ch4rebs":13.0},
{"s":"KIT-458+489 - 200m","m":"2020-04","co2sd":3.9,"co2rebs":18.8,"ch4sd":0.6,"ch4rebs":15.6},
{"s":"KIT-458+489 - 200m","m":"2020-05","co2sd":1.5,"co2rebs":17.3,"ch4sd":1.1,"ch4rebs":15.1},
{"s":"KIT-458+489 - 200m","m":"2020-06","co2sd":1.3,"co2rebs":18.6,"ch4sd":1.4,"ch4rebs":15.3},
{"s":"KIT-458+489 - 200m","m":"2020-07","co2sd":2.0,"co2rebs":17.2,"ch4sd":1.7,"ch4rebs":16.3},
{"s":"KIT-458+489 - 200m","m":"2020-08","co2sd":2.1,"co2rebs":17.6,"ch4sd":1.1,"ch4rebs":14.2},
{"s":"KIT-458+489 - 200m","m":"2020-09","co2sd":2.2,"co2rebs":16.3,"ch4sd":0.9,"ch4rebs":13.6},
{"s":"KIT-458+489 - 200m","m":"2020-10","co2sd":3.8,"co2rebs":17.6,"ch4sd":0.9,"ch4rebs":11.2},
{"s":"KIT-458+489 - 200m","m":"2020-11","co2sd":1.8,"co2rebs":17.3,"ch4sd":0.6,"ch4rebs":12.6},
{"s":"KIT-458+489 - 200m","m":"2020-12","co2sd":2.4,"co2rebs":17.7,"ch4sd":1.2,"ch4rebs":14.2},
{"s":"PUI-102 - 47m","m":"2019-01"},{"s":"PUI-102 - 47m","m":"2019-02"},{"s":"PUI-102 - 47m","m":"2019-03"},{"s":"PUI-102 - 47m","m":"2019-04"},{"s":"PUI-102 - 47m","m":"2019-05"},{"s":"PUI-102 - 47m","m":"2019-06"},{"s":"PUI-102 - 47m","m":"2019-07"},{"s":"PUI-102 - 47m","m":"2019-08"},{"s":"PUI-102 - 47m","m":"2019-09"},{"s":"PUI-102 - 47m","m":"2019-10"},{"s":"PUI-102 - 47m","m":"2019-11"},{"s":"PUI-102 - 47m","m":"2019-12"},{"s":"PUI-102 - 47m","m":"2020-01"},{"s":"PUI-102 - 47m","m":"2020-02"},{"s":"PUI-102 - 47m","m":"2020-03"},
{"s":"PUI-102 - 47m","m":"2020-04","co2sd":0.0,"co2rebs":8.8,"ch4sd":0.0,"ch4rebs":9.4},
{"s":"PUI-102 - 47m","m":"2020-05","co2sd":0.6,"co2rebs":11.4,"ch4sd":0.3,"ch4rebs":10.3},
{"s":"PUI-102 - 47m","m":"2020-06","co2sd":0.5,"co2rebs":10.1,"ch4sd":0.4,"ch4rebs":12.6},
{"s":"PUI-102 - 47m","m":"2020-07","co2sd":0.5,"co2rebs":12.0,"ch4sd":0.3,"ch4rebs":13.8},
{"s":"PUI-102 - 47m","m":"2020-08","co2sd":0.0,"co2rebs":10.0,"ch4sd":0.1,"ch4rebs":12.8},
{"s":"PUI-102 - 47m","m":"2020-09","co2sd":0.2,"co2rebs":10.0,"ch4sd":0.1,"ch4rebs":10.7},
{"s":"PUI-102 - 47m","m":"2020-10","co2sd":0.0,"co2rebs":11.3,"ch4sd":0.0,"ch4rebs":10.4},
{"s":"PUI-102 - 47m","m":"2020-11","co2sd":0.1,"co2rebs":12.9,"ch4sd":0.0,"ch4rebs":8.9},
{"s":"PUI-102 - 47m","m":"2020-12","co2sd":1.9,"co2rebs":15.9,"ch4sd":0.0,"ch4rebs":9.6},
{"s":"PUI-102 - 84m","m":"2019-01","co2sd":2.3,"co2rebs":12.9,"ch4sd":0.1,"ch4rebs":10.2},
{"s":"PUI-102 - 84m","m":"2019-02","co2sd":2.3,"co2rebs":11.5,"ch4sd":0.0,"ch4rebs":8.4},
{"s":"PUI-102 - 84m","m":"2019-03","co2sd":3.2,"co2rebs":11.7,"ch4sd":0.0,"ch4rebs":8.4},
{"s":"PUI-102 - 84m","m":"2019-04","co2sd":3.3,"co2rebs":10.8,"ch4sd":1.5,"ch4rebs":11.2},
{"s":"PUI-102 - 84m","m":"2019-05","co2sd":2.4,"co2rebs":9.3,"ch4sd":0.7,"ch4rebs":8.5},
{"s":"PUI-102 - 84m","m":"2019-06","co2sd":1.0,"co2rebs":9.3,"ch4sd":0.6,"ch4rebs":9.2},
{"s":"PUI-102 - 84m","m":"2019-07","co2sd":1.5,"co2rebs":10.6,"ch4sd":0.1,"ch4rebs":9.4},
{"s":"PUI-102 - 84m","m":"2019-08","co2sd":0.7,"co2rebs":9.8,"ch4sd":0.1,"ch4rebs":10.2},
{"s":"PUI-102 - 84m","m":"2019-09","co2sd":1.0,"co2rebs":13.1,"ch4sd":0.1,"ch4rebs":9.5},
{"s":"PUI-102 - 84m","m":"2019-10","co2sd":1.2,"co2rebs":9.4,"ch4sd":0.2,"ch4rebs":7.6},
{"s":"PUI-102 - 84m","m":"2019-11","co2sd":3.9,"co2rebs":15.4,"ch4sd":0.0,"ch4rebs":10.5},
{"s":"PUI-102 - 84m","m":"2019-12","co2sd":2.8,"co2rebs":10.0,"ch4sd":0.0,"ch4rebs":8.6},
{"s":"PUI-102 - 84m","m":"2020-01","co2sd":0.2,"co2rebs":8.7,"ch4sd":0.0,"ch4rebs":7.5},
{"s":"PUI-102 - 84m","m":"2020-02","co2sd":2.7,"co2rebs":11.1,"ch4sd":0.0,"ch4rebs":8.6},
{"s":"PUI-102 - 84m","m":"2020-03","co2sd":1.0,"co2rebs":10.0,"ch4sd":0.1,"ch4rebs":9.9},
{"s":"PUI-102 - 84m","m":"2020-04","co2sd":5.8,"co2rebs":11.3,"ch4sd":0.2,"ch4rebs":10.2},
{"s":"PUI-102 - 84m","m":"2020-05","co2sd":3.9,"co2rebs":12.1,"ch4sd":0.3,"ch4rebs":9.1},
{"s":"PUI-102 - 84m","m":"2020-06","co2sd":1.6,"co2rebs":12.9,"ch4sd":3.4,"ch4rebs":12.1},
{"s":"PUI-102 - 84m","m":"2020-07","co2sd":1.2,"co2rebs":12.6,"ch4sd":0.9,"ch4rebs":13.5},
{"s":"PUI-102 - 84m","m":"2020-08","co2sd":0.7,"co2rebs":10.7,"ch4sd":0.8,"ch4rebs":12.0},
{"s":"PUI-102 - 84m","m":"2020-09","co2sd":1.7,"co2rebs":11.7,"ch4sd":0.4,"ch4rebs":10.9},
{"s":"PUI-102 - 84m","m":"2020-10","co2sd":1.7,"co2rebs":13.7,"ch4sd":0.0,"ch4rebs":10.7},
{"s":"PUI-102 - 84m","m":"2020-11","co2sd":0.8,"co2rebs":12.9,"ch4sd":0.0,"ch4rebs":9.7},
{"s":"PUI-102 - 84m","m":"2020-12","co2sd":3.6,"co2rebs":15.5,"ch4sd":0.0,"ch4rebs":8.4},
{"s":"SAC-329 - 100m","m":"2019-01","co2sd":0.8,"co2rebs":9.0,"ch4sd":1.8,"ch4rebs":11.8},
{"s":"SAC-329 - 100m","m":"2019-02","co2sd":1.7,"co2rebs":12.8,"ch4sd":0.6,"ch4rebs":12.1},
{"s":"SAC-329 - 100m","m":"2019-03","co2sd":5.1,"co2rebs":11.5,"ch4sd":5.4,"ch4rebs":15.0},
{"s":"SAC-329 - 100m","m":"2019-04","co2sd":0.6,"co2rebs":10.5,"ch4sd":0.0,"ch4rebs":11.1},
{"s":"SAC-329 - 100m","m":"2019-05","co2sd":0.3,"co2rebs":7.7,"ch4sd":0.1,"ch4rebs":10.5},
{"s":"SAC-329 - 100m","m":"2019-06","co2sd":0.4,"co2rebs":8.1,"ch4sd":0.8,"ch4rebs":12.1},
{"s":"SAC-329 - 100m","m":"2019-07","co2sd":0.7,"co2rebs":10.0,"ch4sd":0.5,"ch4rebs":13.7},
{"s":"SAC-329 - 100m","m":"2019-08","co2sd":0.7,"co2rebs":11.3,"ch4sd":0.5,"ch4rebs":11.6},
{"s":"SAC-329 - 100m","m":"2019-09","co2sd":0.4,"co2rebs":9.6,"ch4sd":0.5,"ch4rebs":11.9},
{"s":"SAC-329 - 100m","m":"2019-10","co2sd":0.5,"co2rebs":9.0,"ch4sd":0.7,"ch4rebs":11.2},
{"s":"SAC-329 - 100m","m":"2019-11","co2sd":1.2,"co2rebs":9.8,"ch4sd":1.4,"ch4rebs":12.3},
{"s":"SAC-329 - 100m","m":"2019-12","co2sd":2.4,"co2rebs":10.4,"ch4sd":2.9,"ch4rebs":13.2},
{"s":"SAC-329 - 100m","m":"2020-01","co2sd":0.0,"co2rebs":8.9,"ch4sd":0.0,"ch4rebs":8.1},
{"s":"SAC-329 - 100m","m":"2020-02","co2sd":0.0,"co2rebs":5.2,"ch4sd":0.0,"ch4rebs":9.0},
{"s":"SAC-329 - 100m","m":"2020-03","co2sd":1.8,"co2rebs":11.9,"ch4sd":4.6,"ch4rebs":15.3},
{"s":"SAC-329 - 100m","m":"2020-04","co2sd":0.5,"co2rebs":9.7,"ch4sd":0.5,"ch4rebs":11.4},
{"s":"SAC-329 - 100m","m":"2020-05","co2sd":0.1,"co2rebs":8.0,"ch4sd":0.2,"ch4rebs":11.2},
{"s":"SAC-329 - 100m","m":"2020-06","co2sd":0.3,"co2rebs":7.9,"ch4sd":0.3,"ch4rebs":11.1},
{"s":"SAC-329 - 100m","m":"2020-07","co2sd":0.3,"co2rebs":7.4,"ch4sd":0.2,"ch4rebs":12.0},
{"s":"SAC-329 - 100m","m":"2020-08","co2sd":1.1,"co2rebs":10.5,"ch4sd":1.1,"ch4rebs":12.2},
{"s":"SAC-329 - 100m","m":"2020-09","co2sd":0.9,"co2rebs":10.6,"ch4sd":0.9,"ch4rebs":9.7},
{"s":"SAC-329 - 100m","m":"2020-10","co2sd":0.7,"co2rebs":7.8,"ch4sd":0.2,"ch4rebs":9.7},
{"s":"SAC-329 - 100m","m":"2020-11","co2sd":2.4,"co2rebs":11.0,"ch4sd":1.3,"ch4rebs":10.7},
{"s":"SAC-329 - 100m","m":"2020-12","co2sd":0.1,"co2rebs":7.8,"ch4sd":0.3,"ch4rebs":10.6},
{"s":"SAC-395 - 15m","m":"2019-01","co2sd":0.0,"co2rebs":8.1,"ch4sd":0.0,"ch4rebs":10.2},
{"s":"SAC-395 - 15m","m":"2019-02","co2sd":0.2,"co2rebs":9.9,"ch4sd":0.2,"ch4rebs":10.9},
{"s":"SAC-395 - 15m","m":"2019-03","co2sd":0.5,"co2rebs":9.5,"ch4sd":0.3,"ch4rebs":10.3},
{"s":"SAC-395 - 15m","m":"2019-04","co2sd":0.0,"co2rebs":8.8,"ch4sd":0.0,"ch4rebs":10.0},
{"s":"SAC-395 - 15m","m":"2019-05","co2sd":0.2,"co2rebs":9.7,"ch4sd":0.1,"ch4rebs":9.6},
{"s":"SAC-395 - 15m","m":"2019-06","co2sd":0.0,"co2rebs":11.8,"ch4sd":1.2,"ch4rebs":6.3},
{"s":"SAC-395 - 15m","m":"2019-07"},{"s":"SAC-395 - 15m","m":"2019-08"},{"s":"SAC-395 - 15m","m":"2019-09"},{"s":"SAC-395 - 15m","m":"2019-10"},{"s":"SAC-395 - 15m","m":"2019-11"},{"s":"SAC-395 - 15m","m":"2019-12"},{"s":"SAC-395 - 15m","m":"2020-01"},{"s":"SAC-395 - 15m","m":"2020-02"},
{"s":"SAC-395 - 15m","m":"2020-03","co2sd":1.0,"co2rebs":7.6,"ch4sd":1.9,"ch4rebs":8.9},
{"s":"SAC-395 - 15m","m":"2020-04","co2sd":0.6,"co2rebs":8.1,"ch4sd":1.2,"ch4rebs":9.7},
{"s":"SAC-395 - 15m","m":"2020-05","co2sd":1.0,"co2rebs":8.9,"ch4sd":2.2,"ch4rebs":11.7},
{"s":"SAC-395 - 15m","m":"2020-06","co2sd":0.1,"co2rebs":6.8,"ch4sd":1.1,"ch4rebs":9.3},
{"s":"SAC-395 - 15m","m":"2020-07","co2sd":0.4,"co2rebs":7.5,"ch4sd":3.6,"ch4rebs":11.8},
{"s":"SAC-395 - 15m","m":"2020-08","co2sd":0.5,"co2rebs":8.2,"ch4sd":2.9,"ch4rebs":10.8},
{"s":"SAC-395 - 15m","m":"2020-09","co2sd":0.1,"co2rebs":8.9,"ch4sd":2.8,"ch4rebs":10.4},
{"s":"SAC-395 - 15m","m":"2020-10","co2sd":0.1,"co2rebs":6.8,"ch4sd":0.5,"ch4rebs":7.8},
{"s":"SAC-395 - 15m","m":"2020-11","co2sd":0.5,"co2rebs":8.1,"ch4sd":0.9,"ch4rebs":8.9},
{"s":"SAC-395 - 15m","m":"2020-12","co2sd":0.0,"co2rebs":7.5,"ch4sd":0.4,"ch4rebs":9.8},
{"s":"SAC-395 - 60m","m":"2019-01","co2sd":0.0,"co2rebs":6.7,"ch4sd":0.0,"ch4rebs":8.8},
{"s":"SAC-395 - 60m","m":"2019-02","co2sd":0.9,"co2rebs":7.1,"ch4sd":0.2,"ch4rebs":9.3},
{"s":"SAC-395 - 60m","m":"2019-03","co2sd":0.6,"co2rebs":8.4,"ch4sd":0.8,"ch4rebs":7.8},
{"s":"SAC-395 - 60m","m":"2019-04","co2sd":0.0,"co2rebs":7.7,"ch4sd":0.0,"ch4rebs":7.9},
{"s":"SAC-395 - 60m","m":"2019-05","co2sd":0.0,"co2rebs":8.1,"ch4sd":0.0,"ch4rebs":7.9},
{"s":"SAC-395 - 60m","m":"2019-06","co2sd":0.0,"co2rebs":7.0,"ch4sd":0.0,"ch4rebs":3.7},
{"s":"SAC-395 - 60m","m":"2019-07"},{"s":"SAC-395 - 60m","m":"2019-08"},{"s":"SAC-395 - 60m","m":"2019-09"},{"s":"SAC-395 - 60m","m":"2019-10"},{"s":"SAC-395 - 60m","m":"2019-11"},{"s":"SAC-395 - 60m","m":"2019-12"},{"s":"SAC-395 - 60m","m":"2020-01"},{"s":"SAC-395 - 60m","m":"2020-02"},
{"s":"SAC-395 - 60m","m":"2020-03","co2sd":1.2,"co2rebs":6.2,"ch4sd":1.9,"ch4rebs":6.9},
{"s":"SAC-395 - 60m","m":"2020-04","co2sd":0.6,"co2rebs":6.5,"ch4sd":0.5,"ch4rebs":7.0},
{"s":"SAC-395 - 60m","m":"2020-05","co2sd":0.2,"co2rebs":4.7,"ch4sd":0.5,"ch4rebs":6.9},
{"s":"SAC-395 - 60m","m":"2020-06","co2sd":0.0,"co2rebs":4.4,"ch4sd":0.2,"ch4rebs":6.7},
{"s":"SAC-395 - 60m","m":"2020-07","co2sd":0.1,"co2rebs":5.7,"ch4sd":0.3,"ch4rebs":7.5},
{"s":"SAC-395 - 60m","m":"2020-08","co2sd":0.2,"co2rebs":4.7,"ch4sd":0.9,"ch4rebs":6.3},
{"s":"SAC-395 - 60m","m":"2020-09","co2sd":0.3,"co2rebs":7.4,"ch4sd":0.5,"ch4rebs":7.1},
{"s":"SAC-395 - 60m","m":"2020-10","co2sd":0.3,"co2rebs":8.2,"ch4sd":0.3,"ch4rebs":6.5},
{"s":"SAC-395 - 60m","m":"2020-11","co2sd":0.6,"co2rebs":6.9,"ch4sd":0.8,"ch4rebs":6.8},
{"s":"SAC-395 - 60m","m":"2020-12","co2sd":0.2,"co2rebs":4.8,"ch4sd":0.1,"ch4rebs":8.3},
{"s":"SAC-395 - 100m","m":"2019-01","co2sd":0.0,"co2rebs":4.7,"ch4sd":0.1,"ch4rebs":4.6},
{"s":"SAC-395 - 100m","m":"2019-02","co2sd":1.0,"co2rebs":6.4,"ch4sd":0.3,"ch4rebs":6.7},
{"s":"SAC-395 - 100m","m":"2019-03","co2sd":0.7,"co2rebs":6.5,"ch4sd":0.5,"ch4rebs":6.3},
{"s":"SAC-395 - 100m","m":"2019-04","co2sd":0.0,"co2rebs":7.3,"ch4sd":0.0,"ch4rebs":7.1},
{"s":"SAC-395 - 100m","m":"2019-05","co2sd":0.0,"co2rebs":6.7,"ch4sd":0.1,"ch4rebs":7.1},
{"s":"SAC-395 - 100m","m":"2019-06","co2sd":0.3,"co2rebs":0.9,"ch4sd":0.1,"ch4rebs":1.0},
{"s":"SAC-395 - 100m","m":"2019-07","co2sd":0.2,"co2rebs":0.4,"ch4sd":0.7,"ch4rebs":0.6},
{"s":"SAC-395 - 100m","m":"2019-08","co2sd":0.1,"co2rebs":0.6,"ch4sd":0.1,"ch4rebs":0.8},
{"s":"SAC-395 - 100m","m":"2019-09","co2sd":0.0,"co2rebs":0.7,"ch4sd":0.0,"ch4rebs":1.0},
{"s":"SAC-395 - 100m","m":"2019-10","co2sd":0.0,"co2rebs":0.4,"ch4sd":0.0,"ch4rebs":0.8},
{"s":"SAC-395 - 100m","m":"2019-11","co2sd":0.0,"co2rebs":0.4,"ch4sd":0.0,"ch4rebs":0.7},
{"s":"SAC-395 - 100m","m":"2019-12","co2sd":0.0,"co2rebs":0.4,"ch4sd":0.1,"ch4rebs":0.6},
{"s":"SAC-395 - 100m","m":"2020-01","co2sd":3.1,"co2rebs":10.3,"ch4sd":4.2,"ch4rebs":12.7},
{"s":"SAC-395 - 100m","m":"2020-02","co2sd":0.5,"co2rebs":1.9,"ch4sd":0.1,"ch4rebs":3.2},
{"s":"SAC-395 - 100m","m":"2020-03","co2sd":0.3,"co2rebs":4.4,"ch4sd":1.0,"ch4rebs":5.2},
{"s":"SAC-395 - 100m","m":"2020-04","co2sd":0.2,"co2rebs":4.6,"ch4sd":0.1,"ch4rebs":5.1},
{"s":"SAC-395 - 100m","m":"2020-05","co2sd":0.0,"co2rebs":5.0,"ch4sd":0.2,"ch4rebs":6.1},
{"s":"SAC-395 - 100m","m":"2020-06","co2sd":0.1,"co2rebs":3.2,"ch4sd":0.0,"ch4rebs":6.2},
{"s":"SAC-395 - 100m","m":"2020-07","co2sd":0.1,"co2rebs":5.0,"ch4sd":0.2,"ch4rebs":6.2},
{"s":"SAC-395 - 100m","m":"2020-08","co2sd":0.3,"co2rebs":3.9,"ch4sd":0.2,"ch4rebs":4.9},
{"s":"SAC-395 - 100m","m":"2020-09","co2sd":0.6,"co2rebs":5.1,"ch4sd":0.6,"ch4rebs":4.9},
{"s":"SAC-395 - 100m","m":"2020-10","co2sd":0.4,"co2rebs":5.5,"ch4sd":0.2,"ch4rebs":6.6},
{"s":"SAC-395 - 100m","m":"2020-11","co2sd":0.8,"co2rebs":6.1,"ch4sd":0.5,"ch4rebs":5.7},
{"s":"SAC-395 - 100m","m":"2020-12","co2sd":0.1,"co2rebs":4.5,"ch4sd":0.0,"ch4rebs":7.0}
],
"co":[
{"s":"CMN-590 - 8m","m":"2019-01","cosd":0.0,"corebs":0.1},{"s":"CMN-590 - 8m","m":"2019-02","cosd":0.2,"corebs":0.2},{"s":"CMN-590 - 8m","m":"2019-03","cosd":0.0,"corebs":0.1},{"s":"CMN-590 - 8m","m":"2019-04","cosd":0.0,"corebs":0.0},{"s":"CMN-590 - 8m","m":"2019-05","cosd":0.0,"corebs":0.0},{"s":"CMN-590 - 8m","m":"2019-06","cosd":0.1,"corebs":0.0},{"s":"CMN-590 - 8m","m":"2019-07","cosd":0.0,"corebs":0.0},{"s":"CMN-590 - 8m","m":"2019-08","cosd":0.1,"corebs":0.1},{"s":"CMN-590 - 8m","m":"2019-09","cosd":0.1,"corebs":0.1},{"s":"CMN-590 - 8m","m":"2019-10","cosd":0.1,"corebs":0.0},{"s":"CMN-590 - 8m","m":"2019-11","cosd":0.2,"corebs":0.0},{"s":"CMN-590 - 8m","m":"2019-12","cosd":0.0,"corebs":0.0},
{"s":"CMN-590 - 8m","m":"2020-01","cosd":0.0,"corebs":0.1},{"s":"CMN-590 - 8m","m":"2020-02","cosd":0.5,"corebs":0.1},{"s":"CMN-590 - 8m","m":"2020-03","cosd":0.0,"corebs":0.2},{"s":"CMN-590 - 8m","m":"2020-04","cosd":0.0,"corebs":0.2},{"s":"CMN-590 - 8m","m":"2020-05","cosd":0.0,"corebs":0.1},{"s":"CMN-590 - 8m","m":"2020-06","cosd":0.0,"corebs":0.0},{"s":"CMN-590 - 8m","m":"2020-07","cosd":0.1,"corebs":0.1},{"s":"CMN-590 - 8m","m":"2020-08","cosd":0.0,"corebs":0.0},{"s":"CMN-590 - 8m","m":"2020-09","cosd":0.1,"corebs":0.2},{"s":"CMN-590 - 8m","m":"2020-10","cosd":0.0,"corebs":0.0},{"s":"CMN-590 - 8m","m":"2020-11","cosd":0.3,"corebs":0.4},{"s":"CMN-590 - 8m","m":"2020-12","cosd":0.0,"corebs":0.2},
{"s":"JFJ-225+226+529 - 5m","m":"2019-01","cosd":0.7,"corebs":0.2},{"s":"JFJ-225+226+529 - 5m","m":"2019-02","cosd":0.2,"corebs":0.0},{"s":"JFJ-225+226+529 - 5m","m":"2019-03","cosd":0.2,"corebs":0.0},{"s":"JFJ-225+226+529 - 5m","m":"2019-04","cosd":0.6,"corebs":0.2},{"s":"JFJ-225+226+529 - 5m","m":"2019-05","cosd":1.2,"corebs":0.1},{"s":"JFJ-225+226+529 - 5m","m":"2019-06","cosd":1.8,"corebs":0.3},{"s":"JFJ-225+226+529 - 5m","m":"2019-07","cosd":1.2,"corebs":0.3},{"s":"JFJ-225+226+529 - 5m","m":"2019-08","cosd":0.8,"corebs":0.2},{"s":"JFJ-225+226+529 - 5m","m":"2019-09","cosd":0.6,"corebs":0.2},{"s":"JFJ-225+226+529 - 5m","m":"2019-10","cosd":0.0,"corebs":0.0},{"s":"JFJ-225+226+529 - 5m","m":"2019-11","cosd":0.1,"corebs":0.2},{"s":"JFJ-225+226+529 - 5m","m":"2019-12","cosd":0.1,"corebs":0.2},
{"s":"JFJ-225+226+529 - 5m","m":"2020-01","cosd":0.1,"corebs":0.5},{"s":"JFJ-225+226+529 - 5m","m":"2020-02","cosd":0.1,"corebs":0.2},{"s":"JFJ-225+226+529 - 5m","m":"2020-03","cosd":0.0,"corebs":0.1},{"s":"JFJ-225+226+529 - 5m","m":"2020-04","cosd":0.0,"corebs":0.1},{"s":"JFJ-225+226+529 - 5m","m":"2020-05","cosd":0.1,"corebs":0.0},{"s":"JFJ-225+226+529 - 5m","m":"2020-06","cosd":0.5,"corebs":0.2},{"s":"JFJ-225+226+529 - 5m","m":"2020-07","cosd":0.1,"corebs":0.0},{"s":"JFJ-225+226+529 - 5m","m":"2020-08","cosd":0.0,"corebs":0.0},{"s":"JFJ-225+226+529 - 5m","m":"2020-09","cosd":0.9,"corebs":0.1},{"s":"JFJ-225+226+529 - 5m","m":"2020-10","cosd":0.2,"corebs":0.1},{"s":"JFJ-225+226+529 - 5m","m":"2020-11","cosd":0.0,"corebs":0.2},{"s":"JFJ-225+226+529 - 5m","m":"2020-12","cosd":0.0,"corebs":0.0},
{"s":"UTO-486+999 - 57m","m":"2019-01","cosd":0.1,"corebs":0.3},{"s":"UTO-486+999 - 57m","m":"2019-02","cosd":0.0,"corebs":0.4},{"s":"UTO-486+999 - 57m","m":"2019-03","cosd":0.0,"corebs":0.1},{"s":"UTO-486+999 - 57m","m":"2019-04","cosd":0.1,"corebs":0.2},{"s":"UTO-486+999 - 57m","m":"2019-05","cosd":0.0,"corebs":0.1},{"s":"UTO-486+999 - 57m","m":"2019-06","cosd":0.0,"corebs":0.1},{"s":"UTO-486+999 - 57m","m":"2019-07","cosd":0.1,"corebs":0.3},{"s":"UTO-486+999 - 57m","m":"2019-08","cosd":0.0,"corebs":0.3},{"s":"UTO-486+999 - 57m","m":"2019-09","cosd":0.4,"corebs":0.1},{"s":"UTO-486+999 - 57m","m":"2019-10","cosd":0.1,"corebs":0.1},{"s":"UTO-486+999 - 57m","m":"2019-11","cosd":0.0,"corebs":0.2},{"s":"UTO-486+999 - 57m","m":"2019-12","cosd":0.0,"corebs":0.2},
{"s":"UTO-486+999 - 57m","m":"2020-01","cosd":0.0,"corebs":0.1},{"s":"UTO-486+999 - 57m","m":"2020-02","cosd":0.0,"corebs":0.1},{"s":"UTO-486+999 - 57m","m":"2020-03","cosd":0.0,"corebs":0.2},{"s":"UTO-486+999 - 57m","m":"2020-04","cosd":0.1,"corebs":0.1},{"s":"UTO-486+999 - 57m","m":"2020-05","cosd":0.2,"corebs":0.1},{"s":"UTO-486+999 - 57m","m":"2020-06","cosd":0.0,"corebs":0.1},{"s":"UTO-486+999 - 57m","m":"2020-07","cosd":0.1,"corebs":0.2},{"s":"UTO-486+999 - 57m","m":"2020-08","cosd":0.0,"corebs":0.1},{"s":"UTO-486+999 - 57m","m":"2020-09","cosd":0.4,"corebs":0.4},{"s":"UTO-486+999 - 57m","m":"2020-10","cosd":0.3,"corebs":0.2},{"s":"UTO-486+999 - 57m","m":"2020-11","cosd":0.0,"corebs":0.0},{"s":"UTO-486+999 - 57m","m":"2020-12","cosd":0.0,"corebs":0.8},
{"s":"IPR-619 - 40m","m":"2019-01","cosd":0.0,"corebs":1.0},{"s":"IPR-619 - 40m","m":"2019-02","cosd":0.1,"corebs":0.8},{"s":"IPR-619 - 40m","m":"2019-03","cosd":0.2,"corebs":1.1},{"s":"IPR-619 - 40m","m":"2019-04","cosd":0.4,"corebs":1.3},{"s":"IPR-619 - 40m","m":"2019-05","cosd":0.7,"corebs":0.8},{"s":"IPR-619 - 40m","m":"2019-06","cosd":1.2,"corebs":1.3},{"s":"IPR-619 - 40m","m":"2019-07","cosd":0.5,"corebs":1.7},{"s":"IPR-619 - 40m","m":"2019-08","cosd":1.3,"corebs":1.8},{"s":"IPR-619 - 40m","m":"2019-09","cosd":0.6,"corebs":1.7},{"s":"IPR-619 - 40m","m":"2019-10","cosd":0.4,"corebs":2.4},{"s":"IPR-619 - 40m","m":"2019-11","cosd":0.3,"corebs":1.0},{"s":"IPR-619 - 40m","m":"2019-12","cosd":0.1,"corebs":0.8},
{"s":"IPR-619 - 40m","m":"2020-01","cosd":0.0,"corebs":1.1},{"s":"IPR-619 - 40m","m":"2020-02","cosd":0.0,"corebs":1.0},{"s":"IPR-619 - 40m","m":"2020-03","cosd":0.1,"corebs":1.1},{"s":"IPR-619 - 40m","m":"2020-04","cosd":0.0,"corebs":0.8},{"s":"IPR-619 - 40m","m":"2020-05","cosd":0.4,"corebs":1.9},{"s":"IPR-619 - 40m","m":"2020-06","cosd":0.4,"corebs":0.5},{"s":"IPR-619 - 40m","m":"2020-07","cosd":0.5,"corebs":1.5},{"s":"IPR-619 - 40m","m":"2020-08","cosd":0.1,"corebs":0.9},{"s":"IPR-619 - 40m","m":"2020-09","cosd":0.6,"corebs":2.1},{"s":"IPR-619 - 40m","m":"2020-10","cosd":0.4,"corebs":1.3},{"s":"IPR-619 - 40m","m":"2020-11","cosd":0.1,"corebs":0.9},{"s":"IPR-619 - 40m","m":"2020-12","cosd":0.1,"corebs":1.1},
{"s":"IPR-619 - 60m","m":"2019-01","cosd":0.0,"corebs":0.8},{"s":"IPR-619 - 60m","m":"2019-02","cosd":0.0,"corebs":0.6},{"s":"IPR-619 - 60m","m":"2019-03","cosd":0.1,"corebs":0.8},{"s":"IPR-619 - 60m","m":"2019-04","cosd":0.1,"corebs":1.0},{"s":"IPR-619 - 60m","m":"2019-05","cosd":0.3,"corebs":0.9},{"s":"IPR-619 - 60m","m":"2019-06","cosd":0.9,"corebs":1.2},{"s":"IPR-619 - 60m","m":"2019-07","cosd":0.4,"corebs":1.6},{"s":"IPR-619 - 60m","m":"2019-08","cosd":1.0,"corebs":1.4},{"s":"IPR-619 - 60m","m":"2019-09","cosd":0.3,"corebs":1.1},{"s":"IPR-619 - 60m","m":"2019-10","cosd":0.4,"corebs":1.4},{"s":"IPR-619 - 60m","m":"2019-11","cosd":0.3,"corebs":0.7},{"s":"IPR-619 - 60m","m":"2019-12","cosd":0.2,"corebs":1.0},
{"s":"IPR-619 - 60m","m":"2020-01","cosd":0.1,"corebs":0.4},{"s":"IPR-619 - 60m","m":"2020-02","cosd":0.0,"corebs":1.2},{"s":"IPR-619 - 60m","m":"2020-03","cosd":0.1,"corebs":0.6},{"s":"IPR-619 - 60m","m":"2020-04","cosd":0.1,"corebs":0.6},{"s":"IPR-619 - 60m","m":"2020-05","cosd":0.5,"corebs":1.5},{"s":"IPR-619 - 60m","m":"2020-06","cosd":0.3,"corebs":0.7},{"s":"IPR-619 - 60m","m":"2020-07","cosd":0.5,"corebs":1.7},{"s":"IPR-619 - 60m","m":"2020-08","cosd":0.3,"corebs":1.4},{"s":"IPR-619 - 60m","m":"2020-09","cosd":0.4,"corebs":1.0},{"s":"IPR-619 - 60m","m":"2020-10","cosd":0.3,"corebs":0.8},{"s":"IPR-619 - 60m","m":"2020-11","cosd":0.0,"corebs":0.3},{"s":"IPR-619 - 60m","m":"2020-12","cosd":0.0,"corebs":0.4},
{"s":"IPR-619 - 100m","m":"2019-01","cosd":0.1,"corebs":0.5},{"s":"IPR-619 - 100m","m":"2019-02","cosd":0.0,"corebs":0.5},{"s":"IPR-619 - 100m","m":"2019-03","cosd":0.2,"corebs":0.8},{"s":"IPR-619 - 100m","m":"2019-04","cosd":0.1,"corebs":0.7},{"s":"IPR-619 - 100m","m":"2019-05","cosd":0.3,"corebs":0.7},{"s":"IPR-619 - 100m","m":"2019-06","cosd":0.5,"corebs":0.6},{"s":"IPR-619 - 100m","m":"2019-07","cosd":0.1,"corebs":0.9},{"s":"IPR-619 - 100m","m":"2019-08","cosd":0.7,"corebs":1.2},{"s":"IPR-619 - 100m","m":"2019-09","cosd":0.2,"corebs":0.9},{"s":"IPR-619 - 100m","m":"2019-10","cosd":0.2,"corebs":0.8},{"s":"IPR-619 - 100m","m":"2019-11","cosd":0.2,"corebs":0.6},{"s":"IPR-619 - 100m","m":"2019-12","cosd":0.1,"corebs":0.5},
{"s":"IPR-619 - 100m","m":"2020-01","cosd":0.0,"corebs":0.1},{"s":"IPR-619 - 100m","m":"2020-02","cosd":0.1,"corebs":0.7},{"s":"IPR-619 - 100m","m":"2020-03","cosd":0.2,"corebs":0.5},{"s":"IPR-619 - 100m","m":"2020-04","cosd":0.1,"corebs":0.6},{"s":"IPR-619 - 100m","m":"2020-05","cosd":0.3,"corebs":0.9},{"s":"IPR-619 - 100m","m":"2020-06","cosd":0.2,"corebs":0.6},{"s":"IPR-619 - 100m","m":"2020-07","cosd":0.2,"corebs":0.9},{"s":"IPR-619 - 100m","m":"2020-08","cosd":0.1,"corebs":1.1},{"s":"IPR-619 - 100m","m":"2020-09","cosd":0.3,"corebs":1.1},{"s":"IPR-619 - 100m","m":"2020-10","cosd":0.2,"corebs":0.6},{"s":"IPR-619 - 100m","m":"2020-11","cosd":0.0,"corebs":0.4},{"s":"IPR-619 - 100m","m":"2020-12","cosd":0.1,"corebs":0.5},
{"s":"JUS-527 - 30m","m":"2019-01","cosd":0.4,"corebs":0.1},{"s":"JUS-527 - 30m","m":"2019-02","cosd":0.0,"corebs":0.5},{"s":"JUS-527 - 30m","m":"2019-03","cosd":0.4,"corebs":0.1},{"s":"JUS-527 - 30m","m":"2019-04","cosd":0.0,"corebs":0.1},{"s":"JUS-527 - 30m","m":"2019-05","cosd":0.0,"corebs":0.1},{"s":"JUS-527 - 30m","m":"2019-06","cosd":0.0,"corebs":0.1},{"s":"JUS-527 - 30m","m":"2019-07","cosd":0.1,"corebs":0.1},{"s":"JUS-527 - 30m","m":"2019-08","cosd":0.0,"corebs":0.1},{"s":"JUS-527 - 30m","m":"2019-09","cosd":0.2,"corebs":0.3},{"s":"JUS-527 - 30m","m":"2019-10","cosd":0.6,"corebs":0.3},{"s":"JUS-527 - 30m","m":"2019-11","cosd":0.1,"corebs":0.2},{"s":"JUS-527 - 30m","m":"2019-12","cosd":0.1,"corebs":0.3},
{"s":"JUS-527 - 30m","m":"2020-01","cosd":0.0,"corebs":0.3},{"s":"JUS-527 - 30m","m":"2020-02","cosd":0.1,"corebs":0.3},{"s":"JUS-527 - 30m","m":"2020-03","cosd":0.1,"corebs":0.3},{"s":"JUS-527 - 30m","m":"2020-04","cosd":0.1,"corebs":0.5},{"s":"JUS-527 - 30m","m":"2020-05","cosd":0.0,"corebs":0.2},{"s":"JUS-527 - 30m","m":"2020-06","cosd":0.2,"corebs":0.2},{"s":"JUS-527 - 30m","m":"2020-07","cosd":0.1,"corebs":0.2},{"s":"JUS-527 - 30m","m":"2020-08","cosd":0.0,"corebs":0.2},{"s":"JUS-527 - 30m","m":"2020-09","cosd":0.5,"corebs":0.3},{"s":"JUS-527 - 30m","m":"2020-10","cosd":0.4,"corebs":0.2},{"s":"JUS-527 - 30m","m":"2020-11","cosd":0.0,"corebs":0.3},{"s":"JUS-527 - 30m","m":"2020-12","cosd":0.0,"corebs":0.3},
{"s":"KIT-489+702 - 30m","m":"2019-01","cosd":0.0,"corebs":0.0},{"s":"KIT-489+702 - 30m","m":"2019-02","cosd":0.0,"corebs":0.0},{"s":"KIT-489+702 - 30m","m":"2019-03","cosd":0.2,"corebs":0.6},{"s":"KIT-489+702 - 30m","m":"2019-04"},{"s":"KIT-489+702 - 30m","m":"2019-05"},{"s":"KIT-489+702 - 30m","m":"2019-06"},{"s":"KIT-489+702 - 30m","m":"2019-07"},{"s":"KIT-489+702 - 30m","m":"2019-08","cosd":0.1,"corebs":0.9},{"s":"KIT-489+702 - 30m","m":"2019-09","cosd":0.1,"corebs":0.9},{"s":"KIT-489+702 - 30m","m":"2019-10","cosd":0.0,"corebs":0.2},{"s":"KIT-489+702 - 30m","m":"2019-11","cosd":0.0,"corebs":0.8},{"s":"KIT-489+702 - 30m","m":"2019-12","cosd":0.0,"corebs":0.3},
{"s":"KIT-489+702 - 30m","m":"2020-01","cosd":0.0,"corebs":0.9},{"s":"KIT-489+702 - 30m","m":"2020-02","cosd":0.1,"corebs":0.9},{"s":"KIT-489+702 - 30m","m":"2020-03","cosd":0.0,"corebs":0.2},{"s":"KIT-489+702 - 30m","m":"2020-04","cosd":0.0,"corebs":1.3},{"s":"KIT-489+702 - 30m","m":"2020-05","cosd":0.1,"corebs":1.2},{"s":"KIT-489+702 - 30m","m":"2020-06","cosd":0.2,"corebs":0.9},{"s":"KIT-489+702 - 30m","m":"2020-07","cosd":0.6,"corebs":1.7},{"s":"KIT-489+702 - 30m","m":"2020-08","cosd":0.1,"corebs":0.8},{"s":"KIT-489+702 - 30m","m":"2020-09","cosd":0.3,"corebs":0.9},{"s":"KIT-489+702 - 30m","m":"2020-10","cosd":0.2,"corebs":0.7},{"s":"KIT-489+702 - 30m","m":"2020-11","cosd":0.1,"corebs":0.5},{"s":"KIT-489+702 - 30m","m":"2020-12","cosd":0.0,"corebs":0.5},
{"s":"KIT-489+702 - 60m","m":"2019-01","cosd":0.0,"corebs":0.0},{"s":"KIT-489+702 - 60m","m":"2019-02","cosd":0.0,"corebs":0.0},{"s":"KIT-489+702 - 60m","m":"2019-03","cosd":1.0,"corebs":0.5},{"s":"KIT-489+702 - 60m","m":"2019-04"},{"s":"KIT-489+702 - 60m","m":"2019-05"},{"s":"KIT-489+702 - 60m","m":"2019-06"},{"s":"KIT-489+702 - 60m","m":"2019-07"},{"s":"KIT-489+702 - 60m","m":"2019-08","cosd":0.0,"corebs":1.0},{"s":"KIT-489+702 - 60m","m":"2019-09","cosd":0.0,"corebs":1.1},{"s":"KIT-489+702 - 60m","m":"2019-10","cosd":0.1,"corebs":0.4},{"s":"KIT-489+702 - 60m","m":"2019-11","cosd":0.0,"corebs":0.5},{"s":"KIT-489+702 - 60m","m":"2019-12","cosd":0.0,"corebs":0.3},
{"s":"KIT-489+702 - 60m","m":"2020-01","cosd":0.0,"corebs":0.8},{"s":"KIT-489+702 - 60m","m":"2020-02","cosd":0.1,"corebs":0.4},{"s":"KIT-489+702 - 60m","m":"2020-03","cosd":0.1,"corebs":0.2},{"s":"KIT-489+702 - 60m","m":"2020-04","cosd":0.0,"corebs":0.6},{"s":"KIT-489+702 - 60m","m":"2020-05","cosd":0.0,"corebs":0.5},{"s":"KIT-489+702 - 60m","m":"2020-06","cosd":0.4,"corebs":0.9},{"s":"KIT-489+702 - 60m","m":"2020-07","cosd":0.7,"corebs":1.2},{"s":"KIT-489+702 - 60m","m":"2020-08","cosd":0.2,"corebs":1.4},{"s":"KIT-489+702 - 60m","m":"2020-09","cosd":0.2,"corebs":0.4},{"s":"KIT-489+702 - 60m","m":"2020-10","cosd":0.2,"corebs":0.4},{"s":"KIT-489+702 - 60m","m":"2020-11","cosd":0.1,"corebs":0.1},{"s":"KIT-489+702 - 60m","m":"2020-12","cosd":0.0,"corebs":0.3},
{"s":"KIT-489+702 - 100m","m":"2019-01","cosd":0.0,"corebs":0.0},{"s":"KIT-489+702 - 100m","m":"2019-02","cosd":0.0,"corebs":0.0},{"s":"KIT-489+702 - 100m","m":"2019-03","cosd":0.3,"corebs":0.3},{"s":"KIT-489+702 - 100m","m":"2019-04"},{"s":"KIT-489+702 - 100m","m":"2019-05"},{"s":"KIT-489+702 - 100m","m":"2019-06"},{"s":"KIT-489+702 - 100m","m":"2019-07"},{"s":"KIT-489+702 - 100m","m":"2019-08","cosd":0.3,"corebs":0.3},{"s":"KIT-489+702 - 100m","m":"2019-09","cosd":0.0,"corebs":0.4},{"s":"KIT-489+702 - 100m","m":"2019-10","cosd":0.2,"corebs":0.6},{"s":"KIT-489+702 - 100m","m":"2019-11","cosd":0.0,"corebs":0.2},{"s":"KIT-489+702 - 100m","m":"2019-12","cosd":0.1,"corebs":0.5},
{"s":"KIT-489+702 - 100m","m":"2020-01","cosd":0.0,"corebs":0.4},{"s":"KIT-489+702 - 100m","m":"2020-02","cosd":0.1,"corebs":0.5},{"s":"KIT-489+702 - 100m","m":"2020-03","cosd":0.0,"corebs":0.3},{"s":"KIT-489+702 - 100m","m":"2020-04","cosd":0.2,"corebs":1.0},{"s":"KIT-489+702 - 100m","m":"2020-05","cosd":0.1,"corebs":0.6},{"s":"KIT-489+702 - 100m","m":"2020-06","cosd":0.4,"corebs":0.6},{"s":"KIT-489+702 - 100m","m":"2020-07","cosd":0.6,"corebs":1.3},{"s":"KIT-489+702 - 100m","m":"2020-08","cosd":0.1,"corebs":1.0},{"s":"KIT-489+702 - 100m","m":"2020-09","cosd":0.2,"corebs":0.5},{"s":"KIT-489+702 - 100m","m":"2020-10","cosd":0.0,"corebs":0.5},{"s":"KIT-489+702 - 100m","m":"2020-11","cosd":0.2,"corebs":0.3},{"s":"KIT-489+702 - 100m","m":"2020-12","cosd":0.0,"corebs":0.3},
{"s":"KIT-489+702 - 200m","m":"2019-01","cosd":0.0,"corebs":0.0},{"s":"KIT-489+702 - 200m","m":"2019-02","cosd":0.0,"corebs":0.0},{"s":"KIT-489+702 - 200m","m":"2019-03","cosd":0.3,"corebs":0.4},{"s":"KIT-489+702 - 200m","m":"2019-04"},{"s":"KIT-489+702 - 200m","m":"2019-05"},{"s":"KIT-489+702 - 200m","m":"2019-06"},{"s":"KIT-489+702 - 200m","m":"2019-07"},{"s":"KIT-489+702 - 200m","m":"2019-08","cosd":0.0,"corebs":0.2},{"s":"KIT-489+702 - 200m","m":"2019-09","cosd":0.2,"corebs":0.6},{"s":"KIT-489+702 - 200m","m":"2019-10","cosd":0.2,"corebs":0.2},{"s":"KIT-489+702 - 200m","m":"2019-11","cosd":0.1,"corebs":0.4},{"s":"KIT-489+702 - 200m","m":"2019-12","cosd":0.1,"corebs":0.2},
{"s":"KIT-489+702 - 200m","m":"2020-01","cosd":0.0,"corebs":0.4},{"s":"KIT-489+702 - 200m","m":"2020-02","cosd":0.1,"corebs":0.6},{"s":"KIT-489+702 - 200m","m":"2020-03","cosd":0.0,"corebs":0.1},{"s":"KIT-489+702 - 200m","m":"2020-04","cosd":0.1,"corebs":0.4},{"s":"KIT-489+702 - 200m","m":"2020-05","cosd":0.3,"corebs":0.4},{"s":"KIT-489+702 - 200m","m":"2020-06","cosd":0.2,"corebs":0.4},{"s":"KIT-489+702 - 200m","m":"2020-07","cosd":0.9,"corebs":1.0},{"s":"KIT-489+702 - 200m","m":"2020-08","cosd":0.2,"corebs":0.8},{"s":"KIT-489+702 - 200m","m":"2020-09","cosd":0.2,"corebs":0.2},{"s":"KIT-489+702 - 200m","m":"2020-10","cosd":0.0,"corebs":0.2},{"s":"KIT-489+702 - 200m","m":"2020-11","cosd":0.2,"corebs":0.4},{"s":"KIT-489+702 - 200m","m":"2020-12","cosd":0.1,"corebs":0.2},
{"s":"SAC-329 - 100m","m":"2019-01","cosd":0.0,"corebs":0.1},{"s":"SAC-329 - 100m","m":"2019-02","cosd":0.0,"corebs":0.3},{"s":"SAC-329 - 100m","m":"2019-03","cosd":0.7,"corebs":0.2},{"s":"SAC-329 - 100m","m":"2019-04","cosd":0.1,"corebs":0.2},{"s":"SAC-329 - 100m","m":"2019-05","cosd":0.1,"corebs":0.3},{"s":"SAC-329 - 100m","m":"2019-06","cosd":0.9,"corebs":0.2},{"s":"SAC-329 - 100m","m":"2019-07","cosd":0.2,"corebs":0.3},{"s":"SAC-329 - 100m","m":"2019-08","cosd":0.0,"corebs":0.3},{"s":"SAC-329 - 100m","m":"2019-09","cosd":0.1,"corebs":0.1},{"s":"SAC-329 - 100m","m":"2019-10","cosd":2.2,"corebs":0.1},{"s":"SAC-329 - 100m","m":"2019-11","cosd":0.3,"corebs":0.2},{"s":"SAC-329 - 100m","m":"2019-12","cosd":0.6,"corebs":0.2},
{"s":"SAC-329 - 100m","m":"2020-01","cosd":0.0,"corebs":0.1},{"s":"SAC-329 - 100m","m":"2020-02","cosd":0.0,"corebs":0.0},{"s":"SAC-329 - 100m","m":"2020-03","cosd":0.1,"corebs":0.1},{"s":"SAC-329 - 100m","m":"2020-04","cosd":0.0,"corebs":0.2},{"s":"SAC-329 - 100m","m":"2020-05","cosd":0.0,"corebs":0.1},{"s":"SAC-329 - 100m","m":"2020-06","cosd":0.1,"corebs":0.1},{"s":"SAC-329 - 100m","m":"2020-07","cosd":0.3,"corebs":0.2},{"s":"SAC-329 - 100m","m":"2020-08","cosd":0.3,"corebs":0.2},{"s":"SAC-329 - 100m","m":"2020-09","cosd":0.7,"corebs":0.3},{"s":"SAC-329 - 100m","m":"2020-10","cosd":0.2,"corebs":0.1},{"s":"SAC-329 - 100m","m":"2020-11","cosd":0.8,"corebs":0.2},{"s":"SAC-329 - 100m","m":"2020-12","cosd":0.0,"corebs":0.1},
{"s":"SAC-395 - 15m","m":"2019-01","cosd":0.0,"corebs":0.1},{"s":"SAC-395 - 15m","m":"2019-02","cosd":0.0,"corebs":0.9},{"s":"SAC-395 - 15m","m":"2019-03","cosd":0.4,"corebs":0.5},{"s":"SAC-395 - 15m","m":"2019-04","cosd":0.0,"corebs":0.3},{"s":"SAC-395 - 15m","m":"2019-05","cosd":0.0,"corebs":0.5},{"s":"SAC-395 - 15m","m":"2019-06","cosd":0.0,"corebs":0.2},{"s":"SAC-395 - 15m","m":"2019-07"},{"s":"SAC-395 - 15m","m":"2019-08"},{"s":"SAC-395 - 15m","m":"2019-09"},{"s":"SAC-395 - 15m","m":"2019-10"},{"s":"SAC-395 - 15m","m":"2019-11"},{"s":"SAC-395 - 15m","m":"2019-12"},
{"s":"SAC-395 - 15m","m":"2020-01"},{"s":"SAC-395 - 15m","m":"2020-02"},{"s":"SAC-395 - 15m","m":"2020-03","cosd":0.3,"corebs":0.5},{"s":"SAC-395 - 15m","m":"2020-04","cosd":0.1,"corebs":0.7},{"s":"SAC-395 - 15m","m":"2020-05","cosd":0.0,"corebs":0.5},{"s":"SAC-395 - 15m","m":"2020-06","cosd":0.0,"corebs":0.8},{"s":"SAC-395 - 15m","m":"2020-07","cosd":0.3,"corebs":0.6},{"s":"SAC-395 - 15m","m":"2020-08","cosd":0.2,"corebs":0.6},{"s":"SAC-395 - 15m","m":"2020-09","cosd":0.3,"corebs":0.6},{"s":"SAC-395 - 15m","m":"2020-10","cosd":0.4,"corebs":1.0},{"s":"SAC-395 - 15m","m":"2020-11","cosd":0.1,"corebs":0.7},{"s":"SAC-395 - 15m","m":"2020-12","cosd":0.4,"corebs":1.0},
{"s":"SAC-395 - 60m","m":"2019-01","cosd":0.0,"corebs":0.0},{"s":"SAC-395 - 60m","m":"2019-02","cosd":0.2,"corebs":0.8},{"s":"SAC-395 - 60m","m":"2019-03","cosd":0.6,"corebs":0.7},{"s":"SAC-395 - 60m","m":"2019-04","cosd":0.0,"corebs":0.5},{"s":"SAC-395 - 60m","m":"2019-05","cosd":0.0,"corebs":0.7},{"s":"SAC-395 - 60m","m":"2019-06","cosd":0.0,"corebs":0.0},{"s":"SAC-395 - 60m","m":"2019-07"},{"s":"SAC-395 - 60m","m":"2019-08"},{"s":"SAC-395 - 60m","m":"2019-09"},{"s":"SAC-395 - 60m","m":"2019-10"},{"s":"SAC-395 - 60m","m":"2019-11"},{"s":"SAC-395 - 60m","m":"2019-12"},
{"s":"SAC-395 - 60m","m":"2020-01"},{"s":"SAC-395 - 60m","m":"2020-02"},{"s":"SAC-395 - 60m","m":"2020-03","cosd":0.3,"corebs":0.4},{"s":"SAC-395 - 60m","m":"2020-04","cosd":0.3,"corebs":0.5},{"s":"SAC-395 - 60m","m":"2020-05","cosd":0.0,"corebs":0.3},{"s":"SAC-395 - 60m","m":"2020-06","cosd":0.0,"corebs":0.3},{"s":"SAC-395 - 60m","m":"2020-07","cosd":0.1,"corebs":0.5},{"s":"SAC-395 - 60m","m":"2020-08","cosd":0.4,"corebs":0.6},{"s":"SAC-395 - 60m","m":"2020-09","cosd":1.8,"corebs":0.5},{"s":"SAC-395 - 60m","m":"2020-10","cosd":0.1,"corebs":0.6},{"s":"SAC-395 - 60m","m":"2020-11","cosd":0.1,"corebs":0.4},{"s":"SAC-395 - 60m","m":"2020-12","cosd":0.2,"corebs":0.5},
{"s":"SAC-395 - 100m","m":"2019-01","cosd":0.0,"corebs":0.3},{"s":"SAC-395 - 100m","m":"2019-02","cosd":0.5,"corebs":0.4},{"s":"SAC-395 - 100m","m":"2019-03","cosd":0.5,"corebs":0.9},{"s":"SAC-395 - 100m","m":"2019-04","cosd":0.0,"corebs":0.4},{"s":"SAC-395 - 100m","m":"2019-05","cosd":0.0,"corebs":0.7},{"s":"SAC-395 - 100m","m":"2019-06","cosd":0.1,"corebs":0.2},{"s":"SAC-395 - 100m","m":"2019-07","cosd":0.0,"corebs":0.1},{"s":"SAC-395 - 100m","m":"2019-08","cosd":0.0,"corebs":0.2},{"s":"SAC-395 - 100m","m":"2019-09","cosd":0.0,"corebs":0.2},{"s":"SAC-395 - 100m","m":"2019-10","cosd":0.2,"corebs":0.1},{"s":"SAC-395 - 100m","m":"2019-11","cosd":0.0,"corebs":0.1},{"s":"SAC-395 - 100m","m":"2019-12","cosd":0.0,"corebs":0.0},
{"s":"SAC-395 - 100m","m":"2020-01","cosd":0.2,"corebs":0.2},{"s":"SAC-395 - 100m","m":"2020-02","cosd":0.0,"corebs":0.1},{"s":"SAC-395 - 100m","m":"2020-03","cosd":0.1,"corebs":0.1},{"s":"SAC-395 - 100m","m":"2020-04","cosd":0.0,"corebs":0.3},{"s":"SAC-395 - 100m","m":"2020-05","cosd":0.0,"corebs":0.4},{"s":"SAC-395 - 100m","m":"2020-06","cosd":0.5,"corebs":0.1},{"s":"SAC-395 - 100m","m":"2020-07","cosd":0.2,"corebs":0.2},{"s":"SAC-395 - 100m","m":"2020-08","cosd":0.1,"corebs":0.3},{"s":"SAC-395 - 100m","m":"2020-09","cosd":2.3,"corebs":0.4},{"s":"SAC-395 - 100m","m":"2020-10","cosd":0.3,"corebs":0.4},{"s":"SAC-395 - 100m","m":"2020-11","cosd":0.4,"corebs":0.2},{"s":"SAC-395 - 100m","m":"2020-12","cosd":0.0,"corebs":0.3}
]},
"vconcat":[
{"spacing":31,"hconcat":[
{"width":818,"height":500,"title":{"text":"CO2 - SD 1.0","dx":-177,"offset":27},
"layer":[
{"data":{"name":"gas"},"mark":{"type":"rect","stroke":"#8a8a8a","strokeWidth":1,"invalid":"show"},
"encoding":{"x":{"field":"m","type":"ordinal","scale":{"paddingInner":0,"paddingOuter":0},"axis":{"title":null,"labelAngle":0,"labelLineHeight":26,"labelPadding":3,"labelOverlap":false,"labelExpr":"toNumber(slice(datum.value,5,7)) % 2 == 0 ? [['Jan','Feb','Mar','Apr','May','Jun','Jul','Aug','Sep','Oct','Nov','Dec'][toNumber(slice(datum.value,5,7))-1], \"'\" + slice(datum.value,2,4)] : ''"}},
"y":{"field":"s","type":"nominal","scale":{"domain":["CMN-590 - 8m","JFJ-225+226+529 - 5m","UTO-486+999 - 57m","IPR-619 - 40m","IPR-619 - 60m","IPR-619 - 100m","JUS-527 - 30m","KIT-458+489 - 30m","KIT-458+489 - 60m","KIT-458+489 - 100m","KIT-458+489 - 200m","PUI-102 - 47m","PUI-102 - 84m","SAC-329 - 100m","SAC-395 - 15m","SAC-395 - 60m","SAC-395 - 100m"],"paddingInner":0,"paddingOuter":0},"axis":{"title":null,"labelLimit":400,"labelPadding":3,"labelOverlap":false}},
"color":{"condition":{"test":"!isValid(datum.co2sd)","value":"white"},"field":"co2sd","type":"quantitative","scale":{"type":"threshold","domain":[1.05,5.05,10.05,20.05,40.05,60.05,80.05],"range":["#440154","#46327e","#365c8d","#277f8e","#1fa187","#4ac16d","#a0da39","#fde725"]},"legend":null}}},
{"data":{"name":"gas"},"transform":[{"filter":"isValid(datum.co2sd)"}],"mark":{"type":"text","font":"DejaVu Sans","fontSize":11.5,"color":"#eeeeee"},
"encoding":{"x":{"field":"m","type":"ordinal"},"y":{"field":"s","type":"nominal"},"text":{"field":"co2sd","type":"quantitative","format":".1f"}}},
{"data":{"name":"sepGas"},"mark":{"type":"rule","color":"white","strokeWidth":3.5},"encoding":{"y":{"field":"s","type":"nominal","bandPosition":0}}}
]},
{"width":818,"height":500,"title":{"text":"CH4 - SD 1.0","dx":-39,"offset":45},
"layer":[
{"data":{"name":"gas"},"mark":{"type":"rect","stroke":"#8a8a8a","strokeWidth":1,"invalid":"show"},
"encoding":{"x":{"field":"m","type":"ordinal","scale":{"paddingInner":0,"paddingOuter":0},"axis":{"title":null,"labelAngle":0,"labelLineHeight":26,"labelPadding":3,"labelOverlap":false,"labelExpr":"toNumber(slice(datum.value,5,7)) % 2 == 0 ? [['Jan','Feb','Mar','Apr','May','Jun','Jul','Aug','Sep','Oct','Nov','Dec'][toNumber(slice(datum.value,5,7))-1], \"'\" + slice(datum.value,2,4)] : ''"}},
"y":{"field":"s","type":"nominal","scale":{"domain":["CMN-590 - 8m","JFJ-225+226+529 - 5m","UTO-486+999 - 57m","IPR-619 - 40m","IPR-619 - 60m","IPR-619 - 100m","JUS-527 - 30m","KIT-458+489 - 30m","KIT-458+489 - 60m","KIT-458+489 - 100m","KIT-458+489 - 200m","PUI-102 - 47m","PUI-102 - 84m","SAC-329 - 100m","SAC-395 - 15m","SAC-395 - 60m","SAC-395 - 100m"],"paddingInner":0,"paddingOuter":0},"axis":{"title":null,"labels":false,"minExtent":12.5}},
"color":{"condition":{"test":"!isValid(datum.ch4sd)","value":"white"},"field":"ch4sd","type":"quantitative","scale":{"type":"threshold","domain":[1.05,5.05,10.05,20.05,40.05,60.05,80.05],"range":["#440154","#46327e","#365c8d","#277f8e","#1fa187","#4ac16d","#a0da39","#fde725"]},"legend":null}}},
{"data":{"name":"gas"},"transform":[{"filter":"isValid(datum.ch4sd)"}],"mark":{"type":"text","font":"DejaVu Sans","fontSize":11.5,"color":"#eeeeee"},
"encoding":{"x":{"field":"m","type":"ordinal"},"y":{"field":"s","type":"nominal"},"text":{"field":"ch4sd","type":"quantitative","format":".1f"}}},
{"data":{"name":"sepGas"},"mark":{"type":"rule","color":"white","strokeWidth":3.5},"encoding":{"y":{"field":"s","type":"nominal","bandPosition":0}}}
]},
{"width":85,"height":497,
"layer":[
{"data":{"name":"bins"},"transform":[{"calculate":"datum.k+1","as":"k1"}],"mark":{"type":"rect"},
"encoding":{"y":{"field":"k","type":"quantitative","scale":{"domain":[-0.408,8.408],"nice":false,"zero":false},"axis":{"title":null,"orient":"right","values":[0,1,2,3,4,5,6,7,8],"labelPadding":4,"labelExpr":"['0%','1%','5%','10%','20%','40%','60%','80%','100%'][datum.value]"}},
"y2":{"field":"k1"},
"color":{"field":"hi","type":"quantitative","scale":{"type":"threshold","domain":[1.05,5.05,10.05,20.05,40.05,60.05,80.05],"range":["#440154","#46327e","#365c8d","#277f8e","#1fa187","#4ac16d","#a0da39","#fde725"]},"legend":null}}},
{"data":{"name":"ends"},"mark":{"type":"point","filled":true,"size":7225,"stroke":"black","strokeWidth":1,"opacity":1},
"encoding":{"y":{"field":"k","type":"quantitative"},
"shape":{"field":"end","type":"nominal","scale":{"domain":["over","under"],"range":["M-1,0L0,-0.541L1,0Z","M-1,0L1,0L0,0.541Z"]},"legend":null},
"fill":{"field":"end","type":"nominal","scale":{"domain":["over","under"],"range":["#fde725","#440154"]},"legend":null}}},
{"data":{"values":[{"part":"bar"}]},"mark":{"type":"rect","fill":"transparent","stroke":"black","strokeWidth":1},"encoding":{"y":{"datum":0},"y2":{"datum":8}}}
]},
{"width":818,"height":500,"title":{"text":"CO - SD 3.0","dx":-293,"offset":31},
"layer":[
{"data":{"name":"co"},"mark":{"type":"rect","stroke":"#8a8a8a","strokeWidth":1,"invalid":"show"},
"encoding":{"x":{"field":"m","type":"ordinal","scale":{"paddingInner":0,"paddingOuter":0},"axis":{"title":null,"labelAngle":0,"labelLineHeight":26,"labelPadding":3,"labelOverlap":false,"labelExpr":"toNumber(slice(datum.value,5,7)) % 2 == 0 ? [['Jan','Feb','Mar','Apr','May','Jun','Jul','Aug','Sep','Oct','Nov','Dec'][toNumber(slice(datum.value,5,7))-1], \"'\" + slice(datum.value,2,4)] : ''"}},
"y":{"field":"s","type":"nominal","scale":{"domain":["CMN-590 - 8m","JFJ-225+226+529 - 5m","UTO-486+999 - 57m","IPR-619 - 40m","IPR-619 - 60m","IPR-619 - 100m","JUS-527 - 30m","KIT-489+702 - 30m","KIT-489+702 - 60m","KIT-489+702 - 100m","KIT-489+702 - 200m","SAC-329 - 100m","SAC-395 - 15m","SAC-395 - 60m","SAC-395 - 100m"],"paddingInner":0,"paddingOuter":0},"axis":{"title":null,"labelLimit":400,"labelPadding":3,"labelOverlap":false,"minExtent":323}},
"color":{"condition":{"test":"!isValid(datum.cosd)","value":"white"},"field":"cosd","type":"quantitative","scale":{"type":"threshold","domain":[1.05,5.05,10.05,20.05,40.05,60.05,80.05],"range":["#440154","#46327e","#365c8d","#277f8e","#1fa187","#4ac16d","#a0da39","#fde725"]},"legend":null}}},
{"data":{"name":"co"},"transform":[{"filter":"isValid(datum.cosd)"}],"mark":{"type":"text","font":"DejaVu Sans","fontSize":11.5,"color":"#eeeeee"},
"encoding":{"x":{"field":"m","type":"ordinal"},"y":{"field":"s","type":"nominal"},"text":{"field":"cosd","type":"quantitative","format":".1f"}}},
{"data":{"name":"sepCo"},"mark":{"type":"rule","color":"white","strokeWidth":3.5},"encoding":{"y":{"field":"s","type":"nominal","bandPosition":0}}}
]},
{"width":85,"height":497,
"layer":[
{"data":{"name":"bins"},"transform":[{"calculate":"datum.k+1","as":"k1"}],"mark":{"type":"rect"},
"encoding":{"y":{"field":"k","type":"quantitative","scale":{"domain":[-0.408,8.408],"nice":false,"zero":false},"axis":{"title":null,"orient":"right","values":[0,1,2,3,4,5,6,7,8],"labelPadding":4,"labelExpr":"['0%','1%','5%','10%','20%','40%','60%','80%','100%'][datum.value]"}},
"y2":{"field":"k1"},
"color":{"field":"hi","type":"quantitative","scale":{"type":"threshold","domain":[1.05,5.05,10.05,20.05,40.05,60.05,80.05],"range":["#440154","#46327e","#365c8d","#277f8e","#1fa187","#4ac16d","#a0da39","#fde725"]},"legend":null}}},
{"data":{"name":"ends"},"mark":{"type":"point","filled":true,"size":7225,"stroke":"black","strokeWidth":1,"opacity":1},
"encoding":{"y":{"field":"k","type":"quantitative"},
"shape":{"field":"end","type":"nominal","scale":{"domain":["over","under"],"range":["M-1,0L0,-0.541L1,0Z","M-1,0L1,0L0,0.541Z"]},"legend":null},
"fill":{"field":"end","type":"nominal","scale":{"domain":["over","under"],"range":["#fde725","#440154"]},"legend":null}}},
{"data":{"values":[{"part":"bar"}]},"mark":{"type":"rect","fill":"transparent","stroke":"black","strokeWidth":1},"encoding":{"y":{"datum":0},"y2":{"datum":8}}}
]}
]},
{"spacing":31,"hconcat":[
{"width":818,"height":500,"title":{"text":"CO2 - REBS 3","dx":-177,"offset":46},
"layer":[
{"data":{"name":"gas"},"mark":{"type":"rect","stroke":"#8a8a8a","strokeWidth":1,"invalid":"show"},
"encoding":{"x":{"field":"m","type":"ordinal","scale":{"paddingInner":0,"paddingOuter":0},"axis":{"title":null,"labelAngle":0,"labelLineHeight":26,"labelPadding":3,"labelOverlap":false,"labelExpr":"toNumber(slice(datum.value,5,7)) % 2 == 0 ? [['Jan','Feb','Mar','Apr','May','Jun','Jul','Aug','Sep','Oct','Nov','Dec'][toNumber(slice(datum.value,5,7))-1], \"'\" + slice(datum.value,2,4)] : ''"}},
"y":{"field":"s","type":"nominal","scale":{"domain":["CMN-590 - 8m","JFJ-225+226+529 - 5m","UTO-486+999 - 57m","IPR-619 - 40m","IPR-619 - 60m","IPR-619 - 100m","JUS-527 - 30m","KIT-458+489 - 30m","KIT-458+489 - 60m","KIT-458+489 - 100m","KIT-458+489 - 200m","PUI-102 - 47m","PUI-102 - 84m","SAC-329 - 100m","SAC-395 - 15m","SAC-395 - 60m","SAC-395 - 100m"],"paddingInner":0,"paddingOuter":0},"axis":{"title":null,"labelLimit":400,"labelPadding":3,"labelOverlap":false}},
"color":{"condition":{"test":"!isValid(datum.co2rebs)","value":"white"},"field":"co2rebs","type":"quantitative","scale":{"type":"threshold","domain":[1.05,5.05,10.05,20.05,40.05,60.05,80.05],"range":["#440154","#46327e","#365c8d","#277f8e","#1fa187","#4ac16d","#a0da39","#fde725"]},"legend":null}}},
{"data":{"name":"gas"},"transform":[{"filter":"isValid(datum.co2rebs)"}],"mark":{"type":"text","font":"DejaVu Sans","fontSize":11.5,"color":"#eeeeee"},
"encoding":{"x":{"field":"m","type":"ordinal"},"y":{"field":"s","type":"nominal"},"text":{"field":"co2rebs","type":"quantitative","format":".1f"}}},
{"data":{"name":"sepGas"},"mark":{"type":"rule","color":"white","strokeWidth":3.5},"encoding":{"y":{"field":"s","type":"nominal","bandPosition":0}}}
]},
{"width":818,"height":500,"title":{"text":"CH4 - REBS 3","dx":-39,"offset":49},
"layer":[
{"data":{"name":"gas"},"mark":{"type":"rect","stroke":"#8a8a8a","strokeWidth":1,"invalid":"show"},
"encoding":{"x":{"field":"m","type":"ordinal","scale":{"paddingInner":0,"paddingOuter":0},"axis":{"title":null,"labelAngle":0,"labelLineHeight":26,"labelPadding":3,"labelOverlap":false,"labelExpr":"toNumber(slice(datum.value,5,7)) % 2 == 0 ? [['Jan','Feb','Mar','Apr','May','Jun','Jul','Aug','Sep','Oct','Nov','Dec'][toNumber(slice(datum.value,5,7))-1], \"'\" + slice(datum.value,2,4)] : ''"}},
"y":{"field":"s","type":"nominal","scale":{"domain":["CMN-590 - 8m","JFJ-225+226+529 - 5m","UTO-486+999 - 57m","IPR-619 - 40m","IPR-619 - 60m","IPR-619 - 100m","JUS-527 - 30m","KIT-458+489 - 30m","KIT-458+489 - 60m","KIT-458+489 - 100m","KIT-458+489 - 200m","PUI-102 - 47m","PUI-102 - 84m","SAC-329 - 100m","SAC-395 - 15m","SAC-395 - 60m","SAC-395 - 100m"],"paddingInner":0,"paddingOuter":0},"axis":{"title":null,"labels":false,"minExtent":12.5}},
"color":{"condition":{"test":"!isValid(datum.ch4rebs)","value":"white"},"field":"ch4rebs","type":"quantitative","scale":{"type":"threshold","domain":[1.05,5.05,10.05,20.05,40.05,60.05,80.05],"range":["#440154","#46327e","#365c8d","#277f8e","#1fa187","#4ac16d","#a0da39","#fde725"]},"legend":null}}},
{"data":{"name":"gas"},"transform":[{"filter":"isValid(datum.ch4rebs)"}],"mark":{"type":"text","font":"DejaVu Sans","fontSize":11.5,"color":"#eeeeee"},
"encoding":{"x":{"field":"m","type":"ordinal"},"y":{"field":"s","type":"nominal"},"text":{"field":"ch4rebs","type":"quantitative","format":".1f"}}},
{"data":{"name":"sepGas"},"mark":{"type":"rule","color":"white","strokeWidth":3.5},"encoding":{"y":{"field":"s","type":"nominal","bandPosition":0}}}
]},
{"width":85,"height":497,
"layer":[
{"data":{"name":"bins"},"transform":[{"calculate":"datum.k+1","as":"k1"}],"mark":{"type":"rect"},
"encoding":{"y":{"field":"k","type":"quantitative","scale":{"domain":[-0.408,8.408],"nice":false,"zero":false},"axis":{"title":null,"orient":"right","values":[0,1,2,3,4,5,6,7,8],"labelPadding":4,"labelExpr":"['0%','1%','5%','10%','20%','40%','60%','80%','100%'][datum.value]"}},
"y2":{"field":"k1"},
"color":{"field":"hi","type":"quantitative","scale":{"type":"threshold","domain":[1.05,5.05,10.05,20.05,40.05,60.05,80.05],"range":["#440154","#46327e","#365c8d","#277f8e","#1fa187","#4ac16d","#a0da39","#fde725"]},"legend":null}}},
{"data":{"name":"ends"},"mark":{"type":"point","filled":true,"size":7225,"stroke":"black","strokeWidth":1,"opacity":1},
"encoding":{"y":{"field":"k","type":"quantitative"},
"shape":{"field":"end","type":"nominal","scale":{"domain":["over","under"],"range":["M-1,0L0,-0.541L1,0Z","M-1,0L1,0L0,0.541Z"]},"legend":null},
"fill":{"field":"end","type":"nominal","scale":{"domain":["over","under"],"range":["#fde725","#440154"]},"legend":null}}},
{"data":{"values":[{"part":"bar"}]},"mark":{"type":"rect","fill":"transparent","stroke":"black","strokeWidth":1},"encoding":{"y":{"datum":0},"y2":{"datum":8}}}
]},
{"width":818,"height":500,"title":{"text":"CO - REBS 8","dx":-311,"offset":40},
"layer":[
{"data":{"name":"co"},"mark":{"type":"rect","stroke":"#8a8a8a","strokeWidth":1,"invalid":"show"},
"encoding":{"x":{"field":"m","type":"ordinal","scale":{"paddingInner":0,"paddingOuter":0},"axis":{"title":null,"labelAngle":0,"labelLineHeight":26,"labelPadding":3,"labelOverlap":false,"labelExpr":"toNumber(slice(datum.value,5,7)) % 2 == 0 ? [['Jan','Feb','Mar','Apr','May','Jun','Jul','Aug','Sep','Oct','Nov','Dec'][toNumber(slice(datum.value,5,7))-1], \"'\" + slice(datum.value,2,4)] : ''"}},
"y":{"field":"s","type":"nominal","scale":{"domain":["CMN-590 - 8m","JFJ-225+226+529 - 5m","UTO-486+999 - 57m","IPR-619 - 40m","IPR-619 - 60m","IPR-619 - 100m","JUS-527 - 30m","KIT-489+702 - 30m","KIT-489+702 - 60m","KIT-489+702 - 100m","KIT-489+702 - 200m","SAC-329 - 100m","SAC-395 - 15m","SAC-395 - 60m","SAC-395 - 100m"],"paddingInner":0,"paddingOuter":0},"axis":{"title":null,"labelLimit":400,"labelPadding":3,"labelOverlap":false,"minExtent":323}},
"color":{"condition":{"test":"!isValid(datum.corebs)","value":"white"},"field":"corebs","type":"quantitative","scale":{"type":"threshold","domain":[1.05,5.05,10.05,20.05,40.05,60.05,80.05],"range":["#440154","#46327e","#365c8d","#277f8e","#1fa187","#4ac16d","#a0da39","#fde725"]},"legend":null}}},
{"data":{"name":"co"},"transform":[{"filter":"isValid(datum.corebs)"}],"mark":{"type":"text","font":"DejaVu Sans","fontSize":11.5,"color":"#eeeeee"},
"encoding":{"x":{"field":"m","type":"ordinal"},"y":{"field":"s","type":"nominal"},"text":{"field":"corebs","type":"quantitative","format":".1f"}}},
{"data":{"name":"sepCo"},"mark":{"type":"rule","color":"white","strokeWidth":3.5},"encoding":{"y":{"field":"s","type":"nominal","bandPosition":0}}}
]},
{"width":85,"height":497,
"layer":[
{"data":{"name":"bins"},"transform":[{"calculate":"datum.k+1","as":"k1"}],"mark":{"type":"rect"},
"encoding":{"y":{"field":"k","type":"quantitative","scale":{"domain":[-0.408,8.408],"nice":false,"zero":false},"axis":{"title":null,"orient":"right","values":[0,1,2,3,4,5,6,7,8],"labelPadding":4,"labelExpr":"['0%','1%','5%','10%','20%','40%','60%','80%','100%'][datum.value]"}},
"y2":{"field":"k1"},
"color":{"field":"hi","type":"quantitative","scale":{"type":"threshold","domain":[1.05,5.05,10.05,20.05,40.05,60.05,80.05],"range":["#440154","#46327e","#365c8d","#277f8e","#1fa187","#4ac16d","#a0da39","#fde725"]},"legend":null}}},
{"data":{"name":"ends"},"mark":{"type":"point","filled":true,"size":7225,"stroke":"black","strokeWidth":1,"opacity":1},
"encoding":{"y":{"field":"k","type":"quantitative"},
"shape":{"field":"end","type":"nominal","scale":{"domain":["over","under"],"range":["M-1,0L0,-0.541L1,0Z","M-1,0L1,0L0,0.541Z"]},"legend":null},
"fill":{"field":"end","type":"nominal","scale":{"domain":["over","under"],"range":["#fde725","#440154"]},"legend":null}}},
{"data":{"values":[{"part":"bar"}]},"mark":{"type":"rect","fill":"transparent","stroke":"black","strokeWidth":1},"encoding":{"y":{"datum":0},"y2":{"datum":8}}}
]}
]}
]
}
